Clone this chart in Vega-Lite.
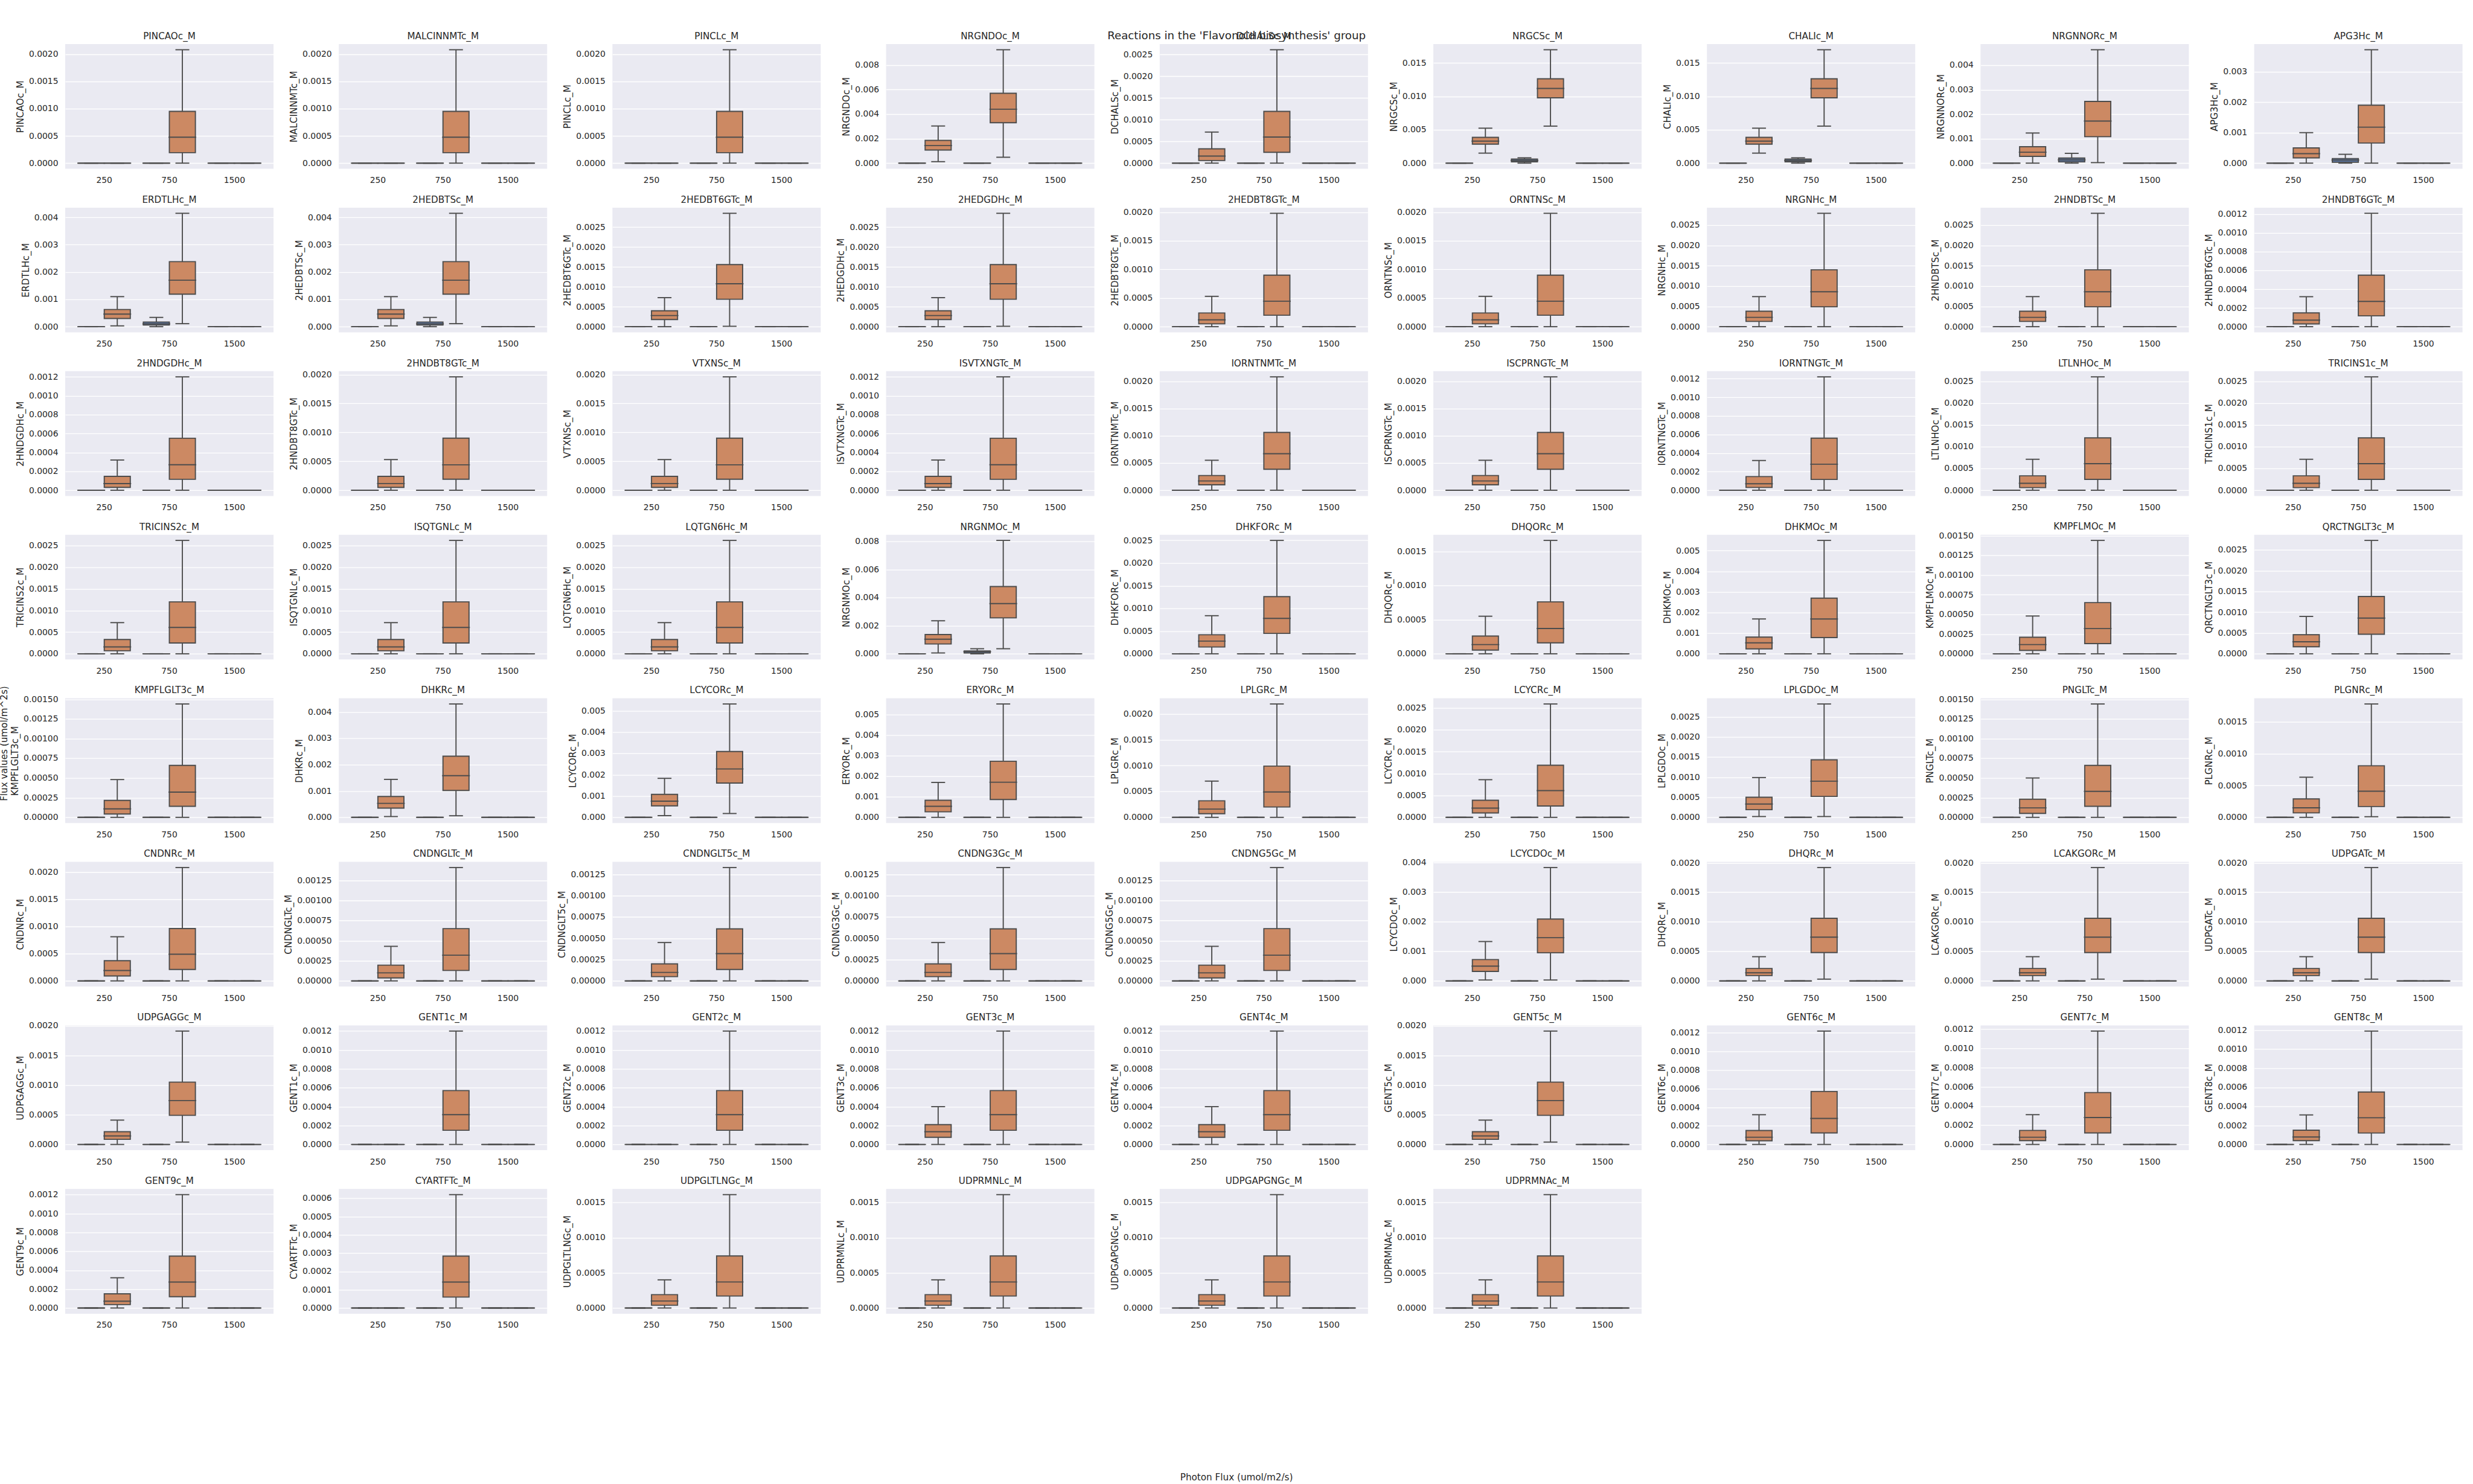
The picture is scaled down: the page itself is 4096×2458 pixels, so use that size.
{
"$schema":"https://vega.github.io/schema/vega-lite/v6.json",
"padding":{"left":0,"top":50,"right":0,"bottom":0},
"background":"white",
"data":{"name":"d"},
"datasets":{"d":[
{"p":"PINCAOc_M","f":"250","g":"A","lo":0,"q1":0,"md":0,"q3":0,"hi":0},{"p":"PINCAOc_M","f":"250","g":"B","lo":0,"q1":0,"md":0,"q3":0,"hi":0},{"p":"PINCAOc_M","f":"750","g":"A","lo":0,"q1":0,"md":0,"q3":0,"hi":0},{"p":"PINCAOc_M","f":"750","g":"B","lo":0,"q1":0.000192,"md":0.000475,"q3":0.00095,"hi":0.00208},{"p":"PINCAOc_M","f":"1500","g":"A","lo":0,"q1":0,"md":0,"q3":0,"hi":0},{"p":"PINCAOc_M","f":"1500","g":"B","lo":0,"q1":0,"md":0,"q3":0,"hi":0},
{"p":"MALCINNMTc_M","f":"250","g":"A","lo":0,"q1":0,"md":0,"q3":0,"hi":0},{"p":"MALCINNMTc_M","f":"250","g":"B","lo":0,"q1":0,"md":0,"q3":0,"hi":0},{"p":"MALCINNMTc_M","f":"750","g":"A","lo":0,"q1":0,"md":0,"q3":0,"hi":0},{"p":"MALCINNMTc_M","f":"750","g":"B","lo":0,"q1":0.000192,"md":0.000475,"q3":0.00095,"hi":0.00208},{"p":"MALCINNMTc_M","f":"1500","g":"A","lo":0,"q1":0,"md":0,"q3":0,"hi":0},{"p":"MALCINNMTc_M","f":"1500","g":"B","lo":0,"q1":0,"md":0,"q3":0,"hi":0},
{"p":"PINCLc_M","f":"250","g":"A","lo":0,"q1":0,"md":0,"q3":0,"hi":0},{"p":"PINCLc_M","f":"250","g":"B","lo":0,"q1":0,"md":0,"q3":0,"hi":0},{"p":"PINCLc_M","f":"750","g":"A","lo":0,"q1":0,"md":0,"q3":0,"hi":0},{"p":"PINCLc_M","f":"750","g":"B","lo":0,"q1":0.000192,"md":0.000475,"q3":0.00095,"hi":0.00208},{"p":"PINCLc_M","f":"1500","g":"A","lo":0,"q1":0,"md":0,"q3":0,"hi":0},{"p":"PINCLc_M","f":"1500","g":"B","lo":0,"q1":0,"md":0,"q3":0,"hi":0},
{"p":"NRGNDOc_M","f":"250","g":"A","lo":0,"q1":0,"md":0,"q3":0,"hi":0},{"p":"NRGNDOc_M","f":"250","g":"B","lo":0.00012,"q1":0.00107,"md":0.00143,"q3":0.00186,"hi":0.00303},{"p":"NRGNDOc_M","f":"750","g":"A","lo":0,"q1":0,"md":0,"q3":0,"hi":0},{"p":"NRGNDOc_M","f":"750","g":"B","lo":0.00048,"q1":0.0033,"md":0.0044,"q3":0.0057,"hi":0.00925},{"p":"NRGNDOc_M","f":"1500","g":"A","lo":0,"q1":0,"md":0,"q3":0,"hi":0},{"p":"NRGNDOc_M","f":"1500","g":"B","lo":0,"q1":0,"md":0,"q3":0,"hi":0},
{"p":"DCHALSc_M","f":"250","g":"A","lo":0,"q1":0,"md":0,"q3":0,"hi":0},{"p":"DCHALSc_M","f":"250","g":"B","lo":0,"q1":0.00006,"md":0.000163,"q3":0.00033,"hi":0.000715},{"p":"DCHALSc_M","f":"750","g":"A","lo":0,"q1":0,"md":0,"q3":0,"hi":0},{"p":"DCHALSc_M","f":"750","g":"B","lo":0,"q1":0.00025,"md":0.0006,"q3":0.00119,"hi":0.00261},{"p":"DCHALSc_M","f":"1500","g":"A","lo":0,"q1":0,"md":0,"q3":0,"hi":0},{"p":"DCHALSc_M","f":"1500","g":"B","lo":0,"q1":0,"md":0,"q3":0,"hi":0},
{"p":"NRGCSc_M","f":"250","g":"A","lo":0,"q1":0,"md":0,"q3":0,"hi":0},{"p":"NRGCSc_M","f":"250","g":"B","lo":0.0015,"q1":0.00285,"md":0.0033,"q3":0.00386,"hi":0.00524},{"p":"NRGCSc_M","f":"750","g":"A","lo":0,"q1":0.0002,"md":0.0004,"q3":0.0006,"hi":0.0008},{"p":"NRGCSc_M","f":"750","g":"B","lo":0.00555,"q1":0.0098,"md":0.0112,"q3":0.01265,"hi":0.017},{"p":"NRGCSc_M","f":"1500","g":"A","lo":0,"q1":0,"md":0,"q3":0,"hi":0},{"p":"NRGCSc_M","f":"1500","g":"B","lo":0,"q1":0,"md":0,"q3":0,"hi":0},
{"p":"CHALIc_M","f":"250","g":"A","lo":0,"q1":0,"md":0,"q3":0,"hi":0},{"p":"CHALIc_M","f":"250","g":"B","lo":0.0015,"q1":0.00285,"md":0.0033,"q3":0.00386,"hi":0.00524},{"p":"CHALIc_M","f":"750","g":"A","lo":0,"q1":0.0002,"md":0.0004,"q3":0.0006,"hi":0.0008},{"p":"CHALIc_M","f":"750","g":"B","lo":0.00555,"q1":0.0098,"md":0.0112,"q3":0.01265,"hi":0.017},{"p":"CHALIc_M","f":"1500","g":"A","lo":0,"q1":0,"md":0,"q3":0,"hi":0},{"p":"CHALIc_M","f":"1500","g":"B","lo":0,"q1":0,"md":0,"q3":0,"hi":0},
{"p":"NRGNNORc_M","f":"250","g":"A","lo":0,"q1":0,"md":0,"q3":0,"hi":0},{"p":"NRGNNORc_M","f":"250","g":"B","lo":0,"q1":0.000275,"md":0.000446,"q3":0.00067,"hi":0.00123},{"p":"NRGNNORc_M","f":"750","g":"A","lo":0,"q1":0.00005,"md":0.000134,"q3":0.00021,"hi":0.0004},{"p":"NRGNNORc_M","f":"750","g":"B","lo":0.00002,"q1":0.00108,"md":0.00172,"q3":0.00252,"hi":0.00463},{"p":"NRGNNORc_M","f":"1500","g":"A","lo":0,"q1":0,"md":0,"q3":0,"hi":0},{"p":"NRGNNORc_M","f":"1500","g":"B","lo":0,"q1":0,"md":0,"q3":0,"hi":0},
{"p":"APG3Hc_M","f":"250","g":"A","lo":0,"q1":0,"md":0,"q3":0,"hi":0},{"p":"APG3Hc_M","f":"250","g":"B","lo":0,"q1":0.000173,"md":0.00031,"q3":0.0005,"hi":0.001},{"p":"APG3Hc_M","f":"750","g":"A","lo":0,"q1":0.00003,"md":0.0001,"q3":0.00015,"hi":0.00029},{"p":"APG3Hc_M","f":"750","g":"B","lo":0,"q1":0.00066,"md":0.00118,"q3":0.0019,"hi":0.00372},{"p":"APG3Hc_M","f":"1500","g":"A","lo":0,"q1":0,"md":0,"q3":0,"hi":0},{"p":"APG3Hc_M","f":"1500","g":"B","lo":0,"q1":0,"md":0,"q3":0,"hi":0},
{"p":"ERDTLHc_M","f":"250","g":"A","lo":0,"q1":0,"md":0,"q3":0,"hi":0},{"p":"ERDTLHc_M","f":"250","g":"B","lo":0.00003,"q1":0.0003,"md":0.00046,"q3":0.00063,"hi":0.0011},{"p":"ERDTLHc_M","f":"750","g":"A","lo":0,"q1":0.00006,"md":0.0001,"q3":0.00017,"hi":0.00034},{"p":"ERDTLHc_M","f":"750","g":"B","lo":0.00011,"q1":0.00119,"md":0.0017,"q3":0.00238,"hi":0.00415},{"p":"ERDTLHc_M","f":"1500","g":"A","lo":0,"q1":0,"md":0,"q3":0,"hi":0},{"p":"ERDTLHc_M","f":"1500","g":"B","lo":0,"q1":0,"md":0,"q3":0,"hi":0},
{"p":"2HEDBTSc_M","f":"250","g":"A","lo":0,"q1":0,"md":0,"q3":0,"hi":0},{"p":"2HEDBTSc_M","f":"250","g":"B","lo":0.00003,"q1":0.0003,"md":0.00046,"q3":0.00063,"hi":0.0011},{"p":"2HEDBTSc_M","f":"750","g":"A","lo":0,"q1":0.00006,"md":0.0001,"q3":0.00017,"hi":0.00034},{"p":"2HEDBTSc_M","f":"750","g":"B","lo":0.00011,"q1":0.00119,"md":0.0017,"q3":0.00238,"hi":0.00415},{"p":"2HEDBTSc_M","f":"1500","g":"A","lo":0,"q1":0,"md":0,"q3":0,"hi":0},{"p":"2HEDBTSc_M","f":"1500","g":"B","lo":0,"q1":0,"md":0,"q3":0,"hi":0},
{"p":"2HEDBT6GTc_M","f":"250","g":"A","lo":0,"q1":0,"md":0,"q3":0,"hi":0},{"p":"2HEDBT6GTc_M","f":"250","g":"B","lo":0,"q1":0.00018,"md":0.00028,"q3":0.0004,"hi":0.00073},{"p":"2HEDBT6GTc_M","f":"750","g":"A","lo":0,"q1":0,"md":0,"q3":0,"hi":0},{"p":"2HEDBT6GTc_M","f":"750","g":"B","lo":0.00001,"q1":0.00069,"md":0.00108,"q3":0.00156,"hi":0.00285},{"p":"2HEDBT6GTc_M","f":"1500","g":"A","lo":0,"q1":0,"md":0,"q3":0,"hi":0},{"p":"2HEDBT6GTc_M","f":"1500","g":"B","lo":0,"q1":0,"md":0,"q3":0,"hi":0},
{"p":"2HEDGDHc_M","f":"250","g":"A","lo":0,"q1":0,"md":0,"q3":0,"hi":0},{"p":"2HEDGDHc_M","f":"250","g":"B","lo":0,"q1":0.00018,"md":0.00028,"q3":0.0004,"hi":0.00073},{"p":"2HEDGDHc_M","f":"750","g":"A","lo":0,"q1":0,"md":0,"q3":0,"hi":0},{"p":"2HEDGDHc_M","f":"750","g":"B","lo":0.00001,"q1":0.00069,"md":0.00108,"q3":0.00156,"hi":0.00285},{"p":"2HEDGDHc_M","f":"1500","g":"A","lo":0,"q1":0,"md":0,"q3":0,"hi":0},{"p":"2HEDGDHc_M","f":"1500","g":"B","lo":0,"q1":0,"md":0,"q3":0,"hi":0},
{"p":"2HEDBT8GTc_M","f":"250","g":"A","lo":0,"q1":0,"md":0,"q3":0,"hi":0},{"p":"2HEDBT8GTc_M","f":"250","g":"B","lo":0,"q1":0.00005,"md":0.00012,"q3":0.00024,"hi":0.00053},{"p":"2HEDBT8GTc_M","f":"750","g":"A","lo":0,"q1":0,"md":0,"q3":0,"hi":0},{"p":"2HEDBT8GTc_M","f":"750","g":"B","lo":0,"q1":0.0002,"md":0.000445,"q3":0.0009,"hi":0.00198},{"p":"2HEDBT8GTc_M","f":"1500","g":"A","lo":0,"q1":0,"md":0,"q3":0,"hi":0},{"p":"2HEDBT8GTc_M","f":"1500","g":"B","lo":0,"q1":0,"md":0,"q3":0,"hi":0},
{"p":"ORNTNSc_M","f":"250","g":"A","lo":0,"q1":0,"md":0,"q3":0,"hi":0},{"p":"ORNTNSc_M","f":"250","g":"B","lo":0,"q1":0.00005,"md":0.00012,"q3":0.00024,"hi":0.00053},{"p":"ORNTNSc_M","f":"750","g":"A","lo":0,"q1":0,"md":0,"q3":0,"hi":0},{"p":"ORNTNSc_M","f":"750","g":"B","lo":0,"q1":0.0002,"md":0.000445,"q3":0.0009,"hi":0.00198},{"p":"ORNTNSc_M","f":"1500","g":"A","lo":0,"q1":0,"md":0,"q3":0,"hi":0},{"p":"ORNTNSc_M","f":"1500","g":"B","lo":0,"q1":0,"md":0,"q3":0,"hi":0},
{"p":"NRGNHc_M","f":"250","g":"A","lo":0,"q1":0,"md":0,"q3":0,"hi":0},{"p":"NRGNHc_M","f":"250","g":"B","lo":0,"q1":0.00013,"md":0.00023,"q3":0.00038,"hi":0.00074},{"p":"NRGNHc_M","f":"750","g":"A","lo":0,"q1":0,"md":0,"q3":0,"hi":0},{"p":"NRGNHc_M","f":"750","g":"B","lo":0,"q1":0.00049,"md":0.00086,"q3":0.0014,"hi":0.00279},{"p":"NRGNHc_M","f":"1500","g":"A","lo":0,"q1":0,"md":0,"q3":0,"hi":0},{"p":"NRGNHc_M","f":"1500","g":"B","lo":0,"q1":0,"md":0,"q3":0,"hi":0},
{"p":"2HNDBTSc_M","f":"250","g":"A","lo":0,"q1":0,"md":0,"q3":0,"hi":0},{"p":"2HNDBTSc_M","f":"250","g":"B","lo":0,"q1":0.00013,"md":0.00023,"q3":0.00038,"hi":0.00074},{"p":"2HNDBTSc_M","f":"750","g":"A","lo":0,"q1":0,"md":0,"q3":0,"hi":0},{"p":"2HNDBTSc_M","f":"750","g":"B","lo":0,"q1":0.00049,"md":0.00086,"q3":0.0014,"hi":0.00279},{"p":"2HNDBTSc_M","f":"1500","g":"A","lo":0,"q1":0,"md":0,"q3":0,"hi":0},{"p":"2HNDBTSc_M","f":"1500","g":"B","lo":0,"q1":0,"md":0,"q3":0,"hi":0},
{"p":"2HNDBT6GTc_M","f":"250","g":"A","lo":0,"q1":0,"md":0,"q3":0,"hi":0},{"p":"2HNDBT6GTc_M","f":"250","g":"B","lo":0,"q1":0.00003,"md":0.00007,"q3":0.000147,"hi":0.00032},{"p":"2HNDBT6GTc_M","f":"750","g":"A","lo":0,"q1":0,"md":0,"q3":0,"hi":0},{"p":"2HNDBT6GTc_M","f":"750","g":"B","lo":0,"q1":0.000116,"md":0.00027,"q3":0.00055,"hi":0.00121},{"p":"2HNDBT6GTc_M","f":"1500","g":"A","lo":0,"q1":0,"md":0,"q3":0,"hi":0},{"p":"2HNDBT6GTc_M","f":"1500","g":"B","lo":0,"q1":0,"md":0,"q3":0,"hi":0},
{"p":"2HNDGDHc_M","f":"250","g":"A","lo":0,"q1":0,"md":0,"q3":0,"hi":0},{"p":"2HNDGDHc_M","f":"250","g":"B","lo":0,"q1":0.00003,"md":0.00007,"q3":0.000147,"hi":0.00032},{"p":"2HNDGDHc_M","f":"750","g":"A","lo":0,"q1":0,"md":0,"q3":0,"hi":0},{"p":"2HNDGDHc_M","f":"750","g":"B","lo":0,"q1":0.000116,"md":0.00027,"q3":0.00055,"hi":0.0012},{"p":"2HNDGDHc_M","f":"1500","g":"A","lo":0,"q1":0,"md":0,"q3":0,"hi":0},{"p":"2HNDGDHc_M","f":"1500","g":"B","lo":0,"q1":0,"md":0,"q3":0,"hi":0},
{"p":"2HNDBT8GTc_M","f":"250","g":"A","lo":0,"q1":0,"md":0,"q3":0,"hi":0},{"p":"2HNDBT8GTc_M","f":"250","g":"B","lo":0,"q1":0.00005,"md":0.000116,"q3":0.00024,"hi":0.00053},{"p":"2HNDBT8GTc_M","f":"750","g":"A","lo":0,"q1":0,"md":0,"q3":0,"hi":0},{"p":"2HNDBT8GTc_M","f":"750","g":"B","lo":0,"q1":0.00019,"md":0.00044,"q3":0.0009,"hi":0.00196},{"p":"2HNDBT8GTc_M","f":"1500","g":"A","lo":0,"q1":0,"md":0,"q3":0,"hi":0},{"p":"2HNDBT8GTc_M","f":"1500","g":"B","lo":0,"q1":0,"md":0,"q3":0,"hi":0},
{"p":"VTXNSc_M","f":"250","g":"A","lo":0,"q1":0,"md":0,"q3":0,"hi":0},{"p":"VTXNSc_M","f":"250","g":"B","lo":0,"q1":0.00005,"md":0.000116,"q3":0.00024,"hi":0.00053},{"p":"VTXNSc_M","f":"750","g":"A","lo":0,"q1":0,"md":0,"q3":0,"hi":0},{"p":"VTXNSc_M","f":"750","g":"B","lo":0,"q1":0.00019,"md":0.00044,"q3":0.0009,"hi":0.00196},{"p":"VTXNSc_M","f":"1500","g":"A","lo":0,"q1":0,"md":0,"q3":0,"hi":0},{"p":"VTXNSc_M","f":"1500","g":"B","lo":0,"q1":0,"md":0,"q3":0,"hi":0},
{"p":"ISVTXNGTc_M","f":"250","g":"A","lo":0,"q1":0,"md":0,"q3":0,"hi":0},{"p":"ISVTXNGTc_M","f":"250","g":"B","lo":0,"q1":0.00003,"md":0.00007,"q3":0.000147,"hi":0.00032},{"p":"ISVTXNGTc_M","f":"750","g":"A","lo":0,"q1":0,"md":0,"q3":0,"hi":0},{"p":"ISVTXNGTc_M","f":"750","g":"B","lo":0,"q1":0.000116,"md":0.00027,"q3":0.00055,"hi":0.0012},{"p":"ISVTXNGTc_M","f":"1500","g":"A","lo":0,"q1":0,"md":0,"q3":0,"hi":0},{"p":"ISVTXNGTc_M","f":"1500","g":"B","lo":0,"q1":0,"md":0,"q3":0,"hi":0},
{"p":"IORNTNMTc_M","f":"250","g":"A","lo":0,"q1":0,"md":0,"q3":0,"hi":0},{"p":"IORNTNMTc_M","f":"250","g":"B","lo":0,"q1":0.0001,"md":0.00017,"q3":0.00027,"hi":0.00055},{"p":"IORNTNMTc_M","f":"750","g":"A","lo":0,"q1":0,"md":0,"q3":0,"hi":0},{"p":"IORNTNMTc_M","f":"750","g":"B","lo":0,"q1":0.000385,"md":0.00067,"q3":0.00106,"hi":0.00208},{"p":"IORNTNMTc_M","f":"1500","g":"A","lo":0,"q1":0,"md":0,"q3":0,"hi":0},{"p":"IORNTNMTc_M","f":"1500","g":"B","lo":0,"q1":0,"md":0,"q3":0,"hi":0},
{"p":"ISCPRNGTc_M","f":"250","g":"A","lo":0,"q1":0,"md":0,"q3":0,"hi":0},{"p":"ISCPRNGTc_M","f":"250","g":"B","lo":0,"q1":0.0001,"md":0.00017,"q3":0.00027,"hi":0.00055},{"p":"ISCPRNGTc_M","f":"750","g":"A","lo":0,"q1":0,"md":0,"q3":0,"hi":0},{"p":"ISCPRNGTc_M","f":"750","g":"B","lo":0,"q1":0.000385,"md":0.00067,"q3":0.00106,"hi":0.00208},{"p":"ISCPRNGTc_M","f":"1500","g":"A","lo":0,"q1":0,"md":0,"q3":0,"hi":0},{"p":"ISCPRNGTc_M","f":"1500","g":"B","lo":0,"q1":0,"md":0,"q3":0,"hi":0},
{"p":"IORNTNGTc_M","f":"250","g":"A","lo":0,"q1":0,"md":0,"q3":0,"hi":0},{"p":"IORNTNGTc_M","f":"250","g":"B","lo":0,"q1":0.00003,"md":0.00007,"q3":0.000147,"hi":0.00032},{"p":"IORNTNGTc_M","f":"750","g":"A","lo":0,"q1":0,"md":0,"q3":0,"hi":0},{"p":"IORNTNGTc_M","f":"750","g":"B","lo":0,"q1":0.000116,"md":0.00028,"q3":0.00056,"hi":0.00122},{"p":"IORNTNGTc_M","f":"1500","g":"A","lo":0,"q1":0,"md":0,"q3":0,"hi":0},{"p":"IORNTNGTc_M","f":"1500","g":"B","lo":0,"q1":0,"md":0,"q3":0,"hi":0},
{"p":"LTLNHOc_M","f":"250","g":"A","lo":0,"q1":0,"md":0,"q3":0,"hi":0},{"p":"LTLNHOc_M","f":"250","g":"B","lo":0,"q1":0.00006,"md":0.00016,"q3":0.00033,"hi":0.00071},{"p":"LTLNHOc_M","f":"750","g":"A","lo":0,"q1":0,"md":0,"q3":0,"hi":0},{"p":"LTLNHOc_M","f":"750","g":"B","lo":0,"q1":0.00025,"md":0.00061,"q3":0.0012,"hi":0.0026},{"p":"LTLNHOc_M","f":"1500","g":"A","lo":0,"q1":0,"md":0,"q3":0,"hi":0},{"p":"LTLNHOc_M","f":"1500","g":"B","lo":0,"q1":0,"md":0,"q3":0,"hi":0},
{"p":"TRICINS1c_M","f":"250","g":"A","lo":0,"q1":0,"md":0,"q3":0,"hi":0},{"p":"TRICINS1c_M","f":"250","g":"B","lo":0,"q1":0.00006,"md":0.00016,"q3":0.00033,"hi":0.00071},{"p":"TRICINS1c_M","f":"750","g":"A","lo":0,"q1":0,"md":0,"q3":0,"hi":0},{"p":"TRICINS1c_M","f":"750","g":"B","lo":0,"q1":0.00025,"md":0.00061,"q3":0.0012,"hi":0.0026},{"p":"TRICINS1c_M","f":"1500","g":"A","lo":0,"q1":0,"md":0,"q3":0,"hi":0},{"p":"TRICINS1c_M","f":"1500","g":"B","lo":0,"q1":0,"md":0,"q3":0,"hi":0},
{"p":"TRICINS2c_M","f":"250","g":"A","lo":0,"q1":0,"md":0,"q3":0,"hi":0},{"p":"TRICINS2c_M","f":"250","g":"B","lo":0,"q1":0.00007,"md":0.00016,"q3":0.00033,"hi":0.00072},{"p":"TRICINS2c_M","f":"750","g":"A","lo":0,"q1":0,"md":0,"q3":0,"hi":0},{"p":"TRICINS2c_M","f":"750","g":"B","lo":0,"q1":0.00025,"md":0.00061,"q3":0.0012,"hi":0.00262},{"p":"TRICINS2c_M","f":"1500","g":"A","lo":0,"q1":0,"md":0,"q3":0,"hi":0},{"p":"TRICINS2c_M","f":"1500","g":"B","lo":0,"q1":0,"md":0,"q3":0,"hi":0},
{"p":"ISQTGNLc_M","f":"250","g":"A","lo":0,"q1":0,"md":0,"q3":0,"hi":0},{"p":"ISQTGNLc_M","f":"250","g":"B","lo":0,"q1":0.00007,"md":0.00016,"q3":0.00033,"hi":0.00072},{"p":"ISQTGNLc_M","f":"750","g":"A","lo":0,"q1":0,"md":0,"q3":0,"hi":0},{"p":"ISQTGNLc_M","f":"750","g":"B","lo":0,"q1":0.00025,"md":0.00061,"q3":0.0012,"hi":0.00262},{"p":"ISQTGNLc_M","f":"1500","g":"A","lo":0,"q1":0,"md":0,"q3":0,"hi":0},{"p":"ISQTGNLc_M","f":"1500","g":"B","lo":0,"q1":0,"md":0,"q3":0,"hi":0},
{"p":"LQTGN6Hc_M","f":"250","g":"A","lo":0,"q1":0,"md":0,"q3":0,"hi":0},{"p":"LQTGN6Hc_M","f":"250","g":"B","lo":0,"q1":0.00007,"md":0.00016,"q3":0.00033,"hi":0.00072},{"p":"LQTGN6Hc_M","f":"750","g":"A","lo":0,"q1":0,"md":0,"q3":0,"hi":0},{"p":"LQTGN6Hc_M","f":"750","g":"B","lo":0,"q1":0.00025,"md":0.00061,"q3":0.0012,"hi":0.00262},{"p":"LQTGN6Hc_M","f":"1500","g":"A","lo":0,"q1":0,"md":0,"q3":0,"hi":0},{"p":"LQTGN6Hc_M","f":"1500","g":"B","lo":0,"q1":0,"md":0,"q3":0,"hi":0},
{"p":"NRGNMOc_M","f":"250","g":"A","lo":0,"q1":0,"md":0,"q3":0,"hi":0},{"p":"NRGNMOc_M","f":"250","g":"B","lo":0.00006,"q1":0.0007,"md":0.00104,"q3":0.00137,"hi":0.00235},{"p":"NRGNMOc_M","f":"750","g":"A","lo":0,"q1":0.00006,"md":0.00015,"q3":0.0002,"hi":0.00036},{"p":"NRGNMOc_M","f":"750","g":"B","lo":0.00036,"q1":0.00256,"md":0.00357,"q3":0.00479,"hi":0.00807},{"p":"NRGNMOc_M","f":"1500","g":"A","lo":0,"q1":0,"md":0,"q3":0,"hi":0},{"p":"NRGNMOc_M","f":"1500","g":"B","lo":0,"q1":0,"md":0,"q3":0,"hi":0},
{"p":"DHKFORc_M","f":"250","g":"A","lo":0,"q1":0,"md":0,"q3":0,"hi":0},{"p":"DHKFORc_M","f":"250","g":"B","lo":0,"q1":0.00015,"md":0.00028,"q3":0.00042,"hi":0.00084},{"p":"DHKFORc_M","f":"750","g":"A","lo":0,"q1":0,"md":0,"q3":0,"hi":0},{"p":"DHKFORc_M","f":"750","g":"B","lo":0,"q1":0.00045,"md":0.00078,"q3":0.00126,"hi":0.0025},{"p":"DHKFORc_M","f":"1500","g":"A","lo":0,"q1":0,"md":0,"q3":0,"hi":0},{"p":"DHKFORc_M","f":"1500","g":"B","lo":0,"q1":0,"md":0,"q3":0,"hi":0},
{"p":"DHQORc_M","f":"250","g":"A","lo":0,"q1":0,"md":0,"q3":0,"hi":0},{"p":"DHQORc_M","f":"250","g":"B","lo":0,"q1":0.000055,"md":0.000135,"q3":0.00026,"hi":0.00055},{"p":"DHQORc_M","f":"750","g":"A","lo":0,"q1":0,"md":0,"q3":0,"hi":0},{"p":"DHQORc_M","f":"750","g":"B","lo":0,"q1":0.00016,"md":0.00037,"q3":0.00076,"hi":0.00166},{"p":"DHQORc_M","f":"1500","g":"A","lo":0,"q1":0,"md":0,"q3":0,"hi":0},{"p":"DHQORc_M","f":"1500","g":"B","lo":0,"q1":0,"md":0,"q3":0,"hi":0},
{"p":"DHKMOc_M","f":"250","g":"A","lo":0,"q1":0,"md":0,"q3":0,"hi":0},{"p":"DHKMOc_M","f":"250","g":"B","lo":0,"q1":0.00024,"md":0.00053,"q3":0.00081,"hi":0.00169},{"p":"DHKMOc_M","f":"750","g":"A","lo":0,"q1":0,"md":0,"q3":0,"hi":0},{"p":"DHKMOc_M","f":"750","g":"B","lo":0,"q1":0.00079,"md":0.00169,"q3":0.0027,"hi":0.0055},{"p":"DHKMOc_M","f":"1500","g":"A","lo":0,"q1":0,"md":0,"q3":0,"hi":0},{"p":"DHKMOc_M","f":"1500","g":"B","lo":0,"q1":0,"md":0,"q3":0,"hi":0},
{"p":"KMPFLMOc_M","f":"250","g":"A","lo":0,"q1":0,"md":0,"q3":0,"hi":0},{"p":"KMPFLMOc_M","f":"250","g":"B","lo":0,"q1":0.000043,"md":0.000117,"q3":0.00021,"hi":0.00048},{"p":"KMPFLMOc_M","f":"750","g":"A","lo":0,"q1":0,"md":0,"q3":0,"hi":0},{"p":"KMPFLMOc_M","f":"750","g":"B","lo":0,"q1":0.00013,"md":0.00032,"q3":0.00065,"hi":0.00144},{"p":"KMPFLMOc_M","f":"1500","g":"A","lo":0,"q1":0,"md":0,"q3":0,"hi":0},{"p":"KMPFLMOc_M","f":"1500","g":"B","lo":0,"q1":0,"md":0,"q3":0,"hi":0},
{"p":"QRCTNGLT3c_M","f":"250","g":"A","lo":0,"q1":0,"md":0,"q3":0,"hi":0},{"p":"QRCTNGLT3c_M","f":"250","g":"B","lo":0,"q1":0.00017,"md":0.00029,"q3":0.00046,"hi":0.0009},{"p":"QRCTNGLT3c_M","f":"750","g":"A","lo":0,"q1":0,"md":0,"q3":0,"hi":0},{"p":"QRCTNGLT3c_M","f":"750","g":"B","lo":0,"q1":0.00047,"md":0.00086,"q3":0.00138,"hi":0.00273},{"p":"QRCTNGLT3c_M","f":"1500","g":"A","lo":0,"q1":0,"md":0,"q3":0,"hi":0},{"p":"QRCTNGLT3c_M","f":"1500","g":"B","lo":0,"q1":0,"md":0,"q3":0,"hi":0},
{"p":"KMPFLGLT3c_M","f":"250","g":"A","lo":0,"q1":0,"md":0,"q3":0,"hi":0},{"p":"KMPFLGLT3c_M","f":"250","g":"B","lo":0,"q1":0.000043,"md":0.000108,"q3":0.000215,"hi":0.00048},{"p":"KMPFLGLT3c_M","f":"750","g":"A","lo":0,"q1":0,"md":0,"q3":0,"hi":0},{"p":"KMPFLGLT3c_M","f":"750","g":"B","lo":0,"q1":0.00014,"md":0.00032,"q3":0.00066,"hi":0.00144},{"p":"KMPFLGLT3c_M","f":"1500","g":"A","lo":0,"q1":0,"md":0,"q3":0,"hi":0},{"p":"KMPFLGLT3c_M","f":"1500","g":"B","lo":0,"q1":0,"md":0,"q3":0,"hi":0},
{"p":"DHKRc_M","f":"250","g":"A","lo":0,"q1":0,"md":0,"q3":0,"hi":0},{"p":"DHKRc_M","f":"250","g":"B","lo":0.00003,"q1":0.00035,"md":0.00053,"q3":0.00079,"hi":0.00144},{"p":"DHKRc_M","f":"750","g":"A","lo":0,"q1":0,"md":0,"q3":0,"hi":0},{"p":"DHKRc_M","f":"750","g":"B","lo":0.00006,"q1":0.00102,"md":0.00158,"q3":0.00232,"hi":0.0043},{"p":"DHKRc_M","f":"1500","g":"A","lo":0,"q1":0,"md":0,"q3":0,"hi":0},{"p":"DHKRc_M","f":"1500","g":"B","lo":0,"q1":0,"md":0,"q3":0,"hi":0},
{"p":"LCYCORc_M","f":"250","g":"A","lo":0,"q1":0,"md":0,"q3":0,"hi":0},{"p":"LCYCORc_M","f":"250","g":"B","lo":0.00008,"q1":0.00054,"md":0.00076,"q3":0.00108,"hi":0.00183},{"p":"LCYCORc_M","f":"750","g":"A","lo":0,"q1":0,"md":0,"q3":0,"hi":0},{"p":"LCYCORc_M","f":"750","g":"B","lo":0.00018,"q1":0.00161,"md":0.00227,"q3":0.00309,"hi":0.00532},{"p":"LCYCORc_M","f":"1500","g":"A","lo":0,"q1":0,"md":0,"q3":0,"hi":0},{"p":"LCYCORc_M","f":"1500","g":"B","lo":0,"q1":0,"md":0,"q3":0,"hi":0},
{"p":"ERYORc_M","f":"250","g":"A","lo":0,"q1":0,"md":0,"q3":0,"hi":0},{"p":"ERYORc_M","f":"250","g":"B","lo":0,"q1":0.00027,"md":0.00054,"q3":0.00083,"hi":0.0017},{"p":"ERYORc_M","f":"750","g":"A","lo":0,"q1":0,"md":0,"q3":0,"hi":0},{"p":"ERYORc_M","f":"750","g":"B","lo":0,"q1":0.00087,"md":0.00171,"q3":0.00273,"hi":0.00552},{"p":"ERYORc_M","f":"1500","g":"A","lo":0,"q1":0,"md":0,"q3":0,"hi":0},{"p":"ERYORc_M","f":"1500","g":"B","lo":0,"q1":0,"md":0,"q3":0,"hi":0},
{"p":"LPLGRc_M","f":"250","g":"A","lo":0,"q1":0,"md":0,"q3":0,"hi":0},{"p":"LPLGRc_M","f":"250","g":"B","lo":0,"q1":0.00007,"md":0.00016,"q3":0.00032,"hi":0.0007},{"p":"LPLGRc_M","f":"750","g":"A","lo":0,"q1":0,"md":0,"q3":0,"hi":0},{"p":"LPLGRc_M","f":"750","g":"B","lo":0,"q1":0.0002,"md":0.00049,"q3":0.00099,"hi":0.00219},{"p":"LPLGRc_M","f":"1500","g":"A","lo":0,"q1":0,"md":0,"q3":0,"hi":0},{"p":"LPLGRc_M","f":"1500","g":"B","lo":0,"q1":0,"md":0,"q3":0,"hi":0},
{"p":"LCYCRc_M","f":"250","g":"A","lo":0,"q1":0,"md":0,"q3":0,"hi":0},{"p":"LCYCRc_M","f":"250","g":"B","lo":0,"q1":0.0001,"md":0.00021,"q3":0.00039,"hi":0.00086},{"p":"LCYCRc_M","f":"750","g":"A","lo":0,"q1":0,"md":0,"q3":0,"hi":0},{"p":"LCYCRc_M","f":"750","g":"B","lo":0,"q1":0.00026,"md":0.00061,"q3":0.00119,"hi":0.00259},{"p":"LCYCRc_M","f":"1500","g":"A","lo":0,"q1":0,"md":0,"q3":0,"hi":0},{"p":"LCYCRc_M","f":"1500","g":"B","lo":0,"q1":0,"md":0,"q3":0,"hi":0},
{"p":"LPLGDOc_M","f":"250","g":"A","lo":0,"q1":0,"md":0,"q3":0,"hi":0},{"p":"LPLGDOc_M","f":"250","g":"B","lo":0.00002,"q1":0.00019,"md":0.00033,"q3":0.0005,"hi":0.00099},{"p":"LPLGDOc_M","f":"750","g":"A","lo":0,"q1":0,"md":0,"q3":0,"hi":0},{"p":"LPLGDOc_M","f":"750","g":"B","lo":0.00002,"q1":0.00052,"md":0.0009,"q3":0.00143,"hi":0.00282},{"p":"LPLGDOc_M","f":"1500","g":"A","lo":0,"q1":0,"md":0,"q3":0,"hi":0},{"p":"LPLGDOc_M","f":"1500","g":"B","lo":0,"q1":0,"md":0,"q3":0,"hi":0},
{"p":"PNGLTc_M","f":"250","g":"A","lo":0,"q1":0,"md":0,"q3":0,"hi":0},{"p":"PNGLTc_M","f":"250","g":"B","lo":0,"q1":0.00005,"md":0.00012,"q3":0.00023,"hi":0.0005},{"p":"PNGLTc_M","f":"750","g":"A","lo":0,"q1":0,"md":0,"q3":0,"hi":0},{"p":"PNGLTc_M","f":"750","g":"B","lo":0,"q1":0.00014,"md":0.00033,"q3":0.00066,"hi":0.00144},{"p":"PNGLTc_M","f":"1500","g":"A","lo":0,"q1":0,"md":0,"q3":0,"hi":0},{"p":"PNGLTc_M","f":"1500","g":"B","lo":0,"q1":0,"md":0,"q3":0,"hi":0},
{"p":"PLGNRc_M","f":"250","g":"A","lo":0,"q1":0,"md":0,"q3":0,"hi":0},{"p":"PLGNRc_M","f":"250","g":"B","lo":0,"q1":0.00007,"md":0.00015,"q3":0.00029,"hi":0.00063},{"p":"PLGNRc_M","f":"750","g":"A","lo":0,"q1":0,"md":0,"q3":0,"hi":0},{"p":"PLGNRc_M","f":"750","g":"B","lo":0.00001,"q1":0.00017,"md":0.00041,"q3":0.00081,"hi":0.00178},{"p":"PLGNRc_M","f":"1500","g":"A","lo":0,"q1":0,"md":0,"q3":0,"hi":0},{"p":"PLGNRc_M","f":"1500","g":"B","lo":0,"q1":0,"md":0,"q3":0,"hi":0},
{"p":"CNDNRc_M","f":"250","g":"A","lo":0,"q1":0,"md":0,"q3":0,"hi":0},{"p":"CNDNRc_M","f":"250","g":"B","lo":0,"q1":0.00009,"md":0.00019,"q3":0.00037,"hi":0.00081},{"p":"CNDNRc_M","f":"750","g":"A","lo":0,"q1":0,"md":0,"q3":0,"hi":0},{"p":"CNDNRc_M","f":"750","g":"B","lo":0,"q1":0.00021,"md":0.00049,"q3":0.00096,"hi":0.00208},{"p":"CNDNRc_M","f":"1500","g":"A","lo":0,"q1":0,"md":0,"q3":0,"hi":0},{"p":"CNDNRc_M","f":"1500","g":"B","lo":0,"q1":0,"md":0,"q3":0,"hi":0},
{"p":"CNDNGLTc_M","f":"250","g":"A","lo":0,"q1":0,"md":0,"q3":0,"hi":0},{"p":"CNDNGLTc_M","f":"250","g":"B","lo":0,"q1":0.000037,"md":0.0001,"q3":0.000196,"hi":0.00043},{"p":"CNDNGLTc_M","f":"750","g":"A","lo":0,"q1":0,"md":0,"q3":0,"hi":0},{"p":"CNDNGLTc_M","f":"750","g":"B","lo":0,"q1":0.00013,"md":0.00032,"q3":0.00065,"hi":0.00141},{"p":"CNDNGLTc_M","f":"1500","g":"A","lo":0,"q1":0,"md":0,"q3":0,"hi":0},{"p":"CNDNGLTc_M","f":"1500","g":"B","lo":0,"q1":0,"md":0,"q3":0,"hi":0},
{"p":"CNDNGLT5c_M","f":"250","g":"A","lo":0,"q1":0,"md":0,"q3":0,"hi":0},{"p":"CNDNGLT5c_M","f":"250","g":"B","lo":0,"q1":0.00005,"md":0.0001,"q3":0.0002,"hi":0.00045},{"p":"CNDNGLT5c_M","f":"750","g":"A","lo":0,"q1":0,"md":0,"q3":0,"hi":0},{"p":"CNDNGLT5c_M","f":"750","g":"B","lo":0,"q1":0.000134,"md":0.00032,"q3":0.00061,"hi":0.00133},{"p":"CNDNGLT5c_M","f":"1500","g":"A","lo":0,"q1":0,"md":0,"q3":0,"hi":0},{"p":"CNDNGLT5c_M","f":"1500","g":"B","lo":0,"q1":0,"md":0,"q3":0,"hi":0},
{"p":"CNDNG3Gc_M","f":"250","g":"A","lo":0,"q1":0,"md":0,"q3":0,"hi":0},{"p":"CNDNG3Gc_M","f":"250","g":"B","lo":0,"q1":0.00005,"md":0.0001,"q3":0.0002,"hi":0.00045},{"p":"CNDNG3Gc_M","f":"750","g":"A","lo":0,"q1":0,"md":0,"q3":0,"hi":0},{"p":"CNDNG3Gc_M","f":"750","g":"B","lo":0,"q1":0.000134,"md":0.00032,"q3":0.00061,"hi":0.00133},{"p":"CNDNG3Gc_M","f":"1500","g":"A","lo":0,"q1":0,"md":0,"q3":0,"hi":0},{"p":"CNDNG3Gc_M","f":"1500","g":"B","lo":0,"q1":0,"md":0,"q3":0,"hi":0},
{"p":"CNDNG5Gc_M","f":"250","g":"A","lo":0,"q1":0,"md":0,"q3":0,"hi":0},{"p":"CNDNG5Gc_M","f":"250","g":"B","lo":0,"q1":0.000037,"md":0.0001,"q3":0.000196,"hi":0.00043},{"p":"CNDNG5Gc_M","f":"750","g":"A","lo":0,"q1":0,"md":0,"q3":0,"hi":0},{"p":"CNDNG5Gc_M","f":"750","g":"B","lo":0,"q1":0.00013,"md":0.00032,"q3":0.00065,"hi":0.00141},{"p":"CNDNG5Gc_M","f":"1500","g":"A","lo":0,"q1":0,"md":0,"q3":0,"hi":0},{"p":"CNDNG5Gc_M","f":"1500","g":"B","lo":0,"q1":0,"md":0,"q3":0,"hi":0},
{"p":"LCYCDOc_M","f":"250","g":"A","lo":0,"q1":0,"md":0,"q3":0,"hi":0},{"p":"LCYCDOc_M","f":"250","g":"B","lo":0.00003,"q1":0.00032,"md":0.0005,"q3":0.00072,"hi":0.00133},{"p":"LCYCDOc_M","f":"750","g":"A","lo":0,"q1":0,"md":0,"q3":0,"hi":0},{"p":"LCYCDOc_M","f":"750","g":"B","lo":0.00003,"q1":0.00095,"md":0.00146,"q3":0.00209,"hi":0.00383},{"p":"LCYCDOc_M","f":"1500","g":"A","lo":0,"q1":0,"md":0,"q3":0,"hi":0},{"p":"LCYCDOc_M","f":"1500","g":"B","lo":0,"q1":0,"md":0,"q3":0,"hi":0},
{"p":"DHQRc_M","f":"250","g":"A","lo":0,"q1":0,"md":0,"q3":0,"hi":0},{"p":"DHQRc_M","f":"250","g":"B","lo":0,"q1":0.00009,"md":0.000137,"q3":0.00021,"hi":0.00041},{"p":"DHQRc_M","f":"750","g":"A","lo":0,"q1":0,"md":0,"q3":0,"hi":0},{"p":"DHQRc_M","f":"750","g":"B","lo":0.00003,"q1":0.00048,"md":0.00074,"q3":0.00106,"hi":0.00192},{"p":"DHQRc_M","f":"1500","g":"A","lo":0,"q1":0,"md":0,"q3":0,"hi":0},{"p":"DHQRc_M","f":"1500","g":"B","lo":0,"q1":0,"md":0,"q3":0,"hi":0},
{"p":"LCAKGORc_M","f":"250","g":"A","lo":0,"q1":0,"md":0,"q3":0,"hi":0},{"p":"LCAKGORc_M","f":"250","g":"B","lo":0,"q1":0.00009,"md":0.000137,"q3":0.00021,"hi":0.00041},{"p":"LCAKGORc_M","f":"750","g":"A","lo":0,"q1":0,"md":0,"q3":0,"hi":0},{"p":"LCAKGORc_M","f":"750","g":"B","lo":0.00003,"q1":0.00048,"md":0.00074,"q3":0.00106,"hi":0.00192},{"p":"LCAKGORc_M","f":"1500","g":"A","lo":0,"q1":0,"md":0,"q3":0,"hi":0},{"p":"LCAKGORc_M","f":"1500","g":"B","lo":0,"q1":0,"md":0,"q3":0,"hi":0},
{"p":"UDPGATc_M","f":"250","g":"A","lo":0,"q1":0,"md":0,"q3":0,"hi":0},{"p":"UDPGATc_M","f":"250","g":"B","lo":0,"q1":0.00009,"md":0.000137,"q3":0.00021,"hi":0.00041},{"p":"UDPGATc_M","f":"750","g":"A","lo":0,"q1":0,"md":0,"q3":0,"hi":0},{"p":"UDPGATc_M","f":"750","g":"B","lo":0.00003,"q1":0.00048,"md":0.00074,"q3":0.00106,"hi":0.00192},{"p":"UDPGATc_M","f":"1500","g":"A","lo":0,"q1":0,"md":0,"q3":0,"hi":0},{"p":"UDPGATc_M","f":"1500","g":"B","lo":0,"q1":0,"md":0,"q3":0,"hi":0},
{"p":"UDPGAGGc_M","f":"250","g":"A","lo":0,"q1":0,"md":0,"q3":0,"hi":0},{"p":"UDPGAGGc_M","f":"250","g":"B","lo":0,"q1":0.000086,"md":0.000143,"q3":0.000215,"hi":0.00041},{"p":"UDPGAGGc_M","f":"750","g":"A","lo":0,"q1":0,"md":0,"q3":0,"hi":0},{"p":"UDPGAGGc_M","f":"750","g":"B","lo":0.00004,"q1":0.00049,"md":0.00074,"q3":0.00105,"hi":0.00191},{"p":"UDPGAGGc_M","f":"1500","g":"A","lo":0,"q1":0,"md":0,"q3":0,"hi":0},{"p":"UDPGAGGc_M","f":"1500","g":"B","lo":0,"q1":0,"md":0,"q3":0,"hi":0},
{"p":"GENT1c_M","f":"250","g":"A","lo":0,"q1":0,"md":0,"q3":0,"hi":0},{"p":"GENT1c_M","f":"250","g":"B","lo":0,"q1":0,"md":0,"q3":0,"hi":0},{"p":"GENT1c_M","f":"750","g":"A","lo":0,"q1":0,"md":0,"q3":0,"hi":0},{"p":"GENT1c_M","f":"750","g":"B","lo":0,"q1":0.00015,"md":0.000315,"q3":0.00057,"hi":0.0012},{"p":"GENT1c_M","f":"1500","g":"A","lo":0,"q1":0,"md":0,"q3":0,"hi":0},{"p":"GENT1c_M","f":"1500","g":"B","lo":0,"q1":0,"md":0,"q3":0,"hi":0},
{"p":"GENT2c_M","f":"250","g":"A","lo":0,"q1":0,"md":0,"q3":0,"hi":0},{"p":"GENT2c_M","f":"250","g":"B","lo":0,"q1":0,"md":0,"q3":0,"hi":0},{"p":"GENT2c_M","f":"750","g":"A","lo":0,"q1":0,"md":0,"q3":0,"hi":0},{"p":"GENT2c_M","f":"750","g":"B","lo":0,"q1":0.00015,"md":0.000315,"q3":0.00057,"hi":0.0012},{"p":"GENT2c_M","f":"1500","g":"A","lo":0,"q1":0,"md":0,"q3":0,"hi":0},{"p":"GENT2c_M","f":"1500","g":"B","lo":0,"q1":0,"md":0,"q3":0,"hi":0},
{"p":"GENT3c_M","f":"250","g":"A","lo":0,"q1":0,"md":0,"q3":0,"hi":0},{"p":"GENT3c_M","f":"250","g":"B","lo":0,"q1":0.000076,"md":0.000135,"q3":0.00021,"hi":0.0004},{"p":"GENT3c_M","f":"750","g":"A","lo":0,"q1":0,"md":0,"q3":0,"hi":0},{"p":"GENT3c_M","f":"750","g":"B","lo":0,"q1":0.00015,"md":0.000315,"q3":0.00057,"hi":0.0012},{"p":"GENT3c_M","f":"1500","g":"A","lo":0,"q1":0,"md":0,"q3":0,"hi":0},{"p":"GENT3c_M","f":"1500","g":"B","lo":0,"q1":0,"md":0,"q3":0,"hi":0},
{"p":"GENT4c_M","f":"250","g":"A","lo":0,"q1":0,"md":0,"q3":0,"hi":0},{"p":"GENT4c_M","f":"250","g":"B","lo":0,"q1":0.000076,"md":0.000135,"q3":0.00021,"hi":0.0004},{"p":"GENT4c_M","f":"750","g":"A","lo":0,"q1":0,"md":0,"q3":0,"hi":0},{"p":"GENT4c_M","f":"750","g":"B","lo":0,"q1":0.00015,"md":0.000315,"q3":0.00057,"hi":0.0012},{"p":"GENT4c_M","f":"1500","g":"A","lo":0,"q1":0,"md":0,"q3":0,"hi":0},{"p":"GENT4c_M","f":"1500","g":"B","lo":0,"q1":0,"md":0,"q3":0,"hi":0},
{"p":"GENT5c_M","f":"250","g":"A","lo":0,"q1":0,"md":0,"q3":0,"hi":0},{"p":"GENT5c_M","f":"250","g":"B","lo":0,"q1":0.000086,"md":0.000143,"q3":0.000215,"hi":0.00041},{"p":"GENT5c_M","f":"750","g":"A","lo":0,"q1":0,"md":0,"q3":0,"hi":0},{"p":"GENT5c_M","f":"750","g":"B","lo":0.00004,"q1":0.00049,"md":0.00074,"q3":0.00105,"hi":0.00191},{"p":"GENT5c_M","f":"1500","g":"A","lo":0,"q1":0,"md":0,"q3":0,"hi":0},{"p":"GENT5c_M","f":"1500","g":"B","lo":0,"q1":0,"md":0,"q3":0,"hi":0},
{"p":"GENT6c_M","f":"250","g":"A","lo":0,"q1":0,"md":0,"q3":0,"hi":0},{"p":"GENT6c_M","f":"250","g":"B","lo":0,"q1":0.00004,"md":0.000078,"q3":0.00015,"hi":0.00032},{"p":"GENT6c_M","f":"750","g":"A","lo":0,"q1":0,"md":0,"q3":0,"hi":0},{"p":"GENT6c_M","f":"750","g":"B","lo":0,"q1":0.000124,"md":0.00028,"q3":0.00057,"hi":0.00122},{"p":"GENT6c_M","f":"1500","g":"A","lo":0,"q1":0,"md":0,"q3":0,"hi":0},{"p":"GENT6c_M","f":"1500","g":"B","lo":0,"q1":0,"md":0,"q3":0,"hi":0},
{"p":"GENT7c_M","f":"250","g":"A","lo":0,"q1":0,"md":0,"q3":0,"hi":0},{"p":"GENT7c_M","f":"250","g":"B","lo":0,"q1":0.00004,"md":0.000075,"q3":0.000146,"hi":0.00031},{"p":"GENT7c_M","f":"750","g":"A","lo":0,"q1":0,"md":0,"q3":0,"hi":0},{"p":"GENT7c_M","f":"750","g":"B","lo":0,"q1":0.00012,"md":0.00028,"q3":0.00054,"hi":0.00118},{"p":"GENT7c_M","f":"1500","g":"A","lo":0,"q1":0,"md":0,"q3":0,"hi":0},{"p":"GENT7c_M","f":"1500","g":"B","lo":0,"q1":0,"md":0,"q3":0,"hi":0},
{"p":"GENT8c_M","f":"250","g":"A","lo":0,"q1":0,"md":0,"q3":0,"hi":0},{"p":"GENT8c_M","f":"250","g":"B","lo":0,"q1":0.00004,"md":0.000078,"q3":0.00015,"hi":0.00031},{"p":"GENT8c_M","f":"750","g":"A","lo":0,"q1":0,"md":0,"q3":0,"hi":0},{"p":"GENT8c_M","f":"750","g":"B","lo":0,"q1":0.00012,"md":0.00028,"q3":0.00055,"hi":0.00119},{"p":"GENT8c_M","f":"1500","g":"A","lo":0,"q1":0,"md":0,"q3":0,"hi":0},{"p":"GENT8c_M","f":"1500","g":"B","lo":0,"q1":0,"md":0,"q3":0,"hi":0},
{"p":"GENT9c_M","f":"250","g":"A","lo":0,"q1":0,"md":0,"q3":0,"hi":0},{"p":"GENT9c_M","f":"250","g":"B","lo":0,"q1":0.000036,"md":0.000072,"q3":0.00015,"hi":0.00032},{"p":"GENT9c_M","f":"750","g":"A","lo":0,"q1":0,"md":0,"q3":0,"hi":0},{"p":"GENT9c_M","f":"750","g":"B","lo":0,"q1":0.00012,"md":0.000275,"q3":0.00055,"hi":0.0012},{"p":"GENT9c_M","f":"1500","g":"A","lo":0,"q1":0,"md":0,"q3":0,"hi":0},{"p":"GENT9c_M","f":"1500","g":"B","lo":0,"q1":0,"md":0,"q3":0,"hi":0},
{"p":"CYARTFTc_M","f":"250","g":"A","lo":0,"q1":0,"md":0,"q3":0,"hi":0},{"p":"CYARTFTc_M","f":"250","g":"B","lo":0,"q1":0,"md":0,"q3":0,"hi":0},{"p":"CYARTFTc_M","f":"750","g":"A","lo":0,"q1":0,"md":0,"q3":0,"hi":0},{"p":"CYARTFTc_M","f":"750","g":"B","lo":0,"q1":0.00006,"md":0.000142,"q3":0.000284,"hi":0.00062},{"p":"CYARTFTc_M","f":"1500","g":"A","lo":0,"q1":0,"md":0,"q3":0,"hi":0},{"p":"CYARTFTc_M","f":"1500","g":"B","lo":0,"q1":0,"md":0,"q3":0,"hi":0},
{"p":"UDPGLTLNGc_M","f":"250","g":"A","lo":0,"q1":0,"md":0,"q3":0,"hi":0},{"p":"UDPGLTLNGc_M","f":"250","g":"B","lo":0,"q1":0.00004,"md":0.0001,"q3":0.00019,"hi":0.0004},{"p":"UDPGLTLNGc_M","f":"750","g":"A","lo":0,"q1":0,"md":0,"q3":0,"hi":0},{"p":"UDPGLTLNGc_M","f":"750","g":"B","lo":0,"q1":0.00017,"md":0.00037,"q3":0.00074,"hi":0.00161},{"p":"UDPGLTLNGc_M","f":"1500","g":"A","lo":0,"q1":0,"md":0,"q3":0,"hi":0},{"p":"UDPGLTLNGc_M","f":"1500","g":"B","lo":0,"q1":0,"md":0,"q3":0,"hi":0},
{"p":"UDPRMNLc_M","f":"250","g":"A","lo":0,"q1":0,"md":0,"q3":0,"hi":0},{"p":"UDPRMNLc_M","f":"250","g":"B","lo":0,"q1":0.00004,"md":0.0001,"q3":0.00019,"hi":0.0004},{"p":"UDPRMNLc_M","f":"750","g":"A","lo":0,"q1":0,"md":0,"q3":0,"hi":0},{"p":"UDPRMNLc_M","f":"750","g":"B","lo":0,"q1":0.00017,"md":0.00037,"q3":0.00074,"hi":0.00161},{"p":"UDPRMNLc_M","f":"1500","g":"A","lo":0,"q1":0,"md":0,"q3":0,"hi":0},{"p":"UDPRMNLc_M","f":"1500","g":"B","lo":0,"q1":0,"md":0,"q3":0,"hi":0},
{"p":"UDPGAPGNGc_M","f":"250","g":"A","lo":0,"q1":0,"md":0,"q3":0,"hi":0},{"p":"UDPGAPGNGc_M","f":"250","g":"B","lo":0,"q1":0.00004,"md":0.0001,"q3":0.00019,"hi":0.0004},{"p":"UDPGAPGNGc_M","f":"750","g":"A","lo":0,"q1":0,"md":0,"q3":0,"hi":0},{"p":"UDPGAPGNGc_M","f":"750","g":"B","lo":0,"q1":0.00017,"md":0.00037,"q3":0.00074,"hi":0.00161},{"p":"UDPGAPGNGc_M","f":"1500","g":"A","lo":0,"q1":0,"md":0,"q3":0,"hi":0},{"p":"UDPGAPGNGc_M","f":"1500","g":"B","lo":0,"q1":0,"md":0,"q3":0,"hi":0},
{"p":"UDPRMNAc_M","f":"250","g":"A","lo":0,"q1":0,"md":0,"q3":0,"hi":0},{"p":"UDPRMNAc_M","f":"250","g":"B","lo":0,"q1":0.00004,"md":0.0001,"q3":0.00019,"hi":0.0004},{"p":"UDPRMNAc_M","f":"750","g":"A","lo":0,"q1":0,"md":0,"q3":0,"hi":0},{"p":"UDPRMNAc_M","f":"750","g":"B","lo":0,"q1":0.00017,"md":0.00037,"q3":0.00074,"hi":0.00161},{"p":"UDPRMNAc_M","f":"1500","g":"A","lo":0,"q1":0,"md":0,"q3":0,"hi":0},{"p":"UDPRMNAc_M","f":"1500","g":"B","lo":0,"q1":0,"md":0,"q3":0,"hi":0}
]},
"config":{
"font":"DejaVu Sans",
"view":{"fill":"#eaeaf2","stroke":null,"discreteWidth":345,"continuousHeight":206.6},
"range":{"category":["#5975a4","#cc8963"]},
"scale":{"bandPaddingInner":0.2,"bandPaddingOuter":0.1},
"axis":{"domain":false,"ticks":false,"tickSize":0,"labelFontSize":13.9,"labelColor":"#262626","labelPadding":12,"titleFontSize":15.2,"titleFontWeight":"normal","titleColor":"#262626","titlePadding":6},
"axisX":{"grid":false,"labelAngle":0},
"axisY":{"grid":true,"gridColor":"#ffffff","gridWidth":1.3,"gridOpacity":1},
"title":{"fontSize":15.2,"fontWeight":"normal","color":"#262626","offset":5,"frame":"group"},
"rule":{"color":"#4c4c4c","strokeWidth":1.9},
"tick":{"color":"#4c4c4c","thickness":1.9,"opacity":1},
"bar":{"stroke":"#4c4c4c","strokeWidth":1.9,"opacity":1}
},
"title":{"text":"Flux values (umol/m^2s)","orient":"left","anchor":"middle","frame":"bounds","fontSize":15.2,"offset":2,"dx":21},
"hconcat":[{"title":{"text":"Photon Flux (umol/m2/s)","orient":"bottom","anchor":"middle","frame":"bounds","fontSize":15.2,"offset":238},
"vconcat":[{"title":{"text":"Reactions in the 'Flavonoid biosynthesis' group","anchor":"middle","frame":"bounds","fontSize":18.2,"offset":-16.5},
"columns":9,"spacing":{"row":63.9,"column":108.2},"bounds":"flush",
"concat":[
{"title":"PINCAOc_M","transform":[{"filter":"datum.p=='PINCAOc_M'"}],"encoding":{"x":{"field":"f","type":"nominal","sort":["250","750","1500"],"scale":{"type":"band"},"title":null},"xOffset":{"field":"g"},"y":{"field":"lo","type":"quantitative","title":"PINCAOc_M","scale":{"padding":9.4,"nice":false},"axis":{"values":[0,0.0005,0.001,0.0015,0.002],"format":".4f"}}},"layer":[{"mark":"rule","encoding":{"y2":{"field":"hi"}}},{"mark":{"type":"tick","size":23}},{"mark":{"type":"tick","size":23},"encoding":{"y":{"field":"hi","type":"quantitative"}}},{"mark":"bar","encoding":{"y":{"field":"q1","type":"quantitative"},"y2":{"field":"q3"},"color":{"field":"g","legend":null}}},{"mark":{"type":"tick","size":46},"encoding":{"y":{"field":"md","type":"quantitative"}}}]},
{"title":"MALCINNMTc_M","transform":[{"filter":"datum.p=='MALCINNMTc_M'"}],"encoding":{"x":{"field":"f","type":"nominal","sort":["250","750","1500"],"scale":{"type":"band"},"title":null},"xOffset":{"field":"g"},"y":{"field":"lo","type":"quantitative","title":"MALCINNMTc_M","scale":{"padding":9.4,"nice":false},"axis":{"values":[0,0.0005,0.001,0.0015,0.002],"format":".4f"}}},"layer":[{"mark":"rule","encoding":{"y2":{"field":"hi"}}},{"mark":{"type":"tick","size":23}},{"mark":{"type":"tick","size":23},"encoding":{"y":{"field":"hi","type":"quantitative"}}},{"mark":"bar","encoding":{"y":{"field":"q1","type":"quantitative"},"y2":{"field":"q3"},"color":{"field":"g","legend":null}}},{"mark":{"type":"tick","size":46},"encoding":{"y":{"field":"md","type":"quantitative"}}}]},
{"title":"PINCLc_M","transform":[{"filter":"datum.p=='PINCLc_M'"}],"encoding":{"x":{"field":"f","type":"nominal","sort":["250","750","1500"],"scale":{"type":"band"},"title":null},"xOffset":{"field":"g"},"y":{"field":"lo","type":"quantitative","title":"PINCLc_M","scale":{"padding":9.4,"nice":false},"axis":{"values":[0,0.0005,0.001,0.0015,0.002],"format":".4f"}}},"layer":[{"mark":"rule","encoding":{"y2":{"field":"hi"}}},{"mark":{"type":"tick","size":23}},{"mark":{"type":"tick","size":23},"encoding":{"y":{"field":"hi","type":"quantitative"}}},{"mark":"bar","encoding":{"y":{"field":"q1","type":"quantitative"},"y2":{"field":"q3"},"color":{"field":"g","legend":null}}},{"mark":{"type":"tick","size":46},"encoding":{"y":{"field":"md","type":"quantitative"}}}]},
{"title":"NRGNDOc_M","transform":[{"filter":"datum.p=='NRGNDOc_M'"}],"encoding":{"x":{"field":"f","type":"nominal","sort":["250","750","1500"],"scale":{"type":"band"},"title":null},"xOffset":{"field":"g"},"y":{"field":"lo","type":"quantitative","title":"NRGNDOc_M","scale":{"padding":9.4,"nice":false},"axis":{"values":[0,0.002,0.004,0.006,0.008],"format":".3f"}}},"layer":[{"mark":"rule","encoding":{"y2":{"field":"hi"}}},{"mark":{"type":"tick","size":23}},{"mark":{"type":"tick","size":23},"encoding":{"y":{"field":"hi","type":"quantitative"}}},{"mark":"bar","encoding":{"y":{"field":"q1","type":"quantitative"},"y2":{"field":"q3"},"color":{"field":"g","legend":null}}},{"mark":{"type":"tick","size":46},"encoding":{"y":{"field":"md","type":"quantitative"}}}]},
{"title":"DCHALSc_M","transform":[{"filter":"datum.p=='DCHALSc_M'"}],"encoding":{"x":{"field":"f","type":"nominal","sort":["250","750","1500"],"scale":{"type":"band"},"title":null},"xOffset":{"field":"g"},"y":{"field":"lo","type":"quantitative","title":"DCHALSc_M","scale":{"padding":9.4,"nice":false},"axis":{"values":[0,0.0005,0.001,0.0015,0.002,0.0025],"format":".4f"}}},"layer":[{"mark":"rule","encoding":{"y2":{"field":"hi"}}},{"mark":{"type":"tick","size":23}},{"mark":{"type":"tick","size":23},"encoding":{"y":{"field":"hi","type":"quantitative"}}},{"mark":"bar","encoding":{"y":{"field":"q1","type":"quantitative"},"y2":{"field":"q3"},"color":{"field":"g","legend":null}}},{"mark":{"type":"tick","size":46},"encoding":{"y":{"field":"md","type":"quantitative"}}}]},
{"title":"NRGCSc_M","transform":[{"filter":"datum.p=='NRGCSc_M'"}],"encoding":{"x":{"field":"f","type":"nominal","sort":["250","750","1500"],"scale":{"type":"band"},"title":null},"xOffset":{"field":"g"},"y":{"field":"lo","type":"quantitative","title":"NRGCSc_M","scale":{"padding":9.4,"nice":false},"axis":{"values":[0,0.005,0.01,0.015],"format":".3f"}}},"layer":[{"mark":"rule","encoding":{"y2":{"field":"hi"}}},{"mark":{"type":"tick","size":23}},{"mark":{"type":"tick","size":23},"encoding":{"y":{"field":"hi","type":"quantitative"}}},{"mark":"bar","encoding":{"y":{"field":"q1","type":"quantitative"},"y2":{"field":"q3"},"color":{"field":"g","legend":null}}},{"mark":{"type":"tick","size":46},"encoding":{"y":{"field":"md","type":"quantitative"}}}]},
{"title":"CHALIc_M","transform":[{"filter":"datum.p=='CHALIc_M'"}],"encoding":{"x":{"field":"f","type":"nominal","sort":["250","750","1500"],"scale":{"type":"band"},"title":null},"xOffset":{"field":"g"},"y":{"field":"lo","type":"quantitative","title":"CHALIc_M","scale":{"padding":9.4,"nice":false},"axis":{"values":[0,0.005,0.01,0.015],"format":".3f"}}},"layer":[{"mark":"rule","encoding":{"y2":{"field":"hi"}}},{"mark":{"type":"tick","size":23}},{"mark":{"type":"tick","size":23},"encoding":{"y":{"field":"hi","type":"quantitative"}}},{"mark":"bar","encoding":{"y":{"field":"q1","type":"quantitative"},"y2":{"field":"q3"},"color":{"field":"g","legend":null}}},{"mark":{"type":"tick","size":46},"encoding":{"y":{"field":"md","type":"quantitative"}}}]},
{"title":"NRGNNORc_M","transform":[{"filter":"datum.p=='NRGNNORc_M'"}],"encoding":{"x":{"field":"f","type":"nominal","sort":["250","750","1500"],"scale":{"type":"band"},"title":null},"xOffset":{"field":"g"},"y":{"field":"lo","type":"quantitative","title":"NRGNNORc_M","scale":{"padding":9.4,"nice":false},"axis":{"values":[0,0.001,0.002,0.003,0.004],"format":".3f"}}},"layer":[{"mark":"rule","encoding":{"y2":{"field":"hi"}}},{"mark":{"type":"tick","size":23}},{"mark":{"type":"tick","size":23},"encoding":{"y":{"field":"hi","type":"quantitative"}}},{"mark":"bar","encoding":{"y":{"field":"q1","type":"quantitative"},"y2":{"field":"q3"},"color":{"field":"g","legend":null}}},{"mark":{"type":"tick","size":46},"encoding":{"y":{"field":"md","type":"quantitative"}}}]},
{"title":"APG3Hc_M","transform":[{"filter":"datum.p=='APG3Hc_M'"}],"encoding":{"x":{"field":"f","type":"nominal","sort":["250","750","1500"],"scale":{"type":"band"},"title":null},"xOffset":{"field":"g"},"y":{"field":"lo","type":"quantitative","title":"APG3Hc_M","scale":{"padding":9.4,"nice":false},"axis":{"values":[0,0.001,0.002,0.003],"format":".3f"}}},"layer":[{"mark":"rule","encoding":{"y2":{"field":"hi"}}},{"mark":{"type":"tick","size":23}},{"mark":{"type":"tick","size":23},"encoding":{"y":{"field":"hi","type":"quantitative"}}},{"mark":"bar","encoding":{"y":{"field":"q1","type":"quantitative"},"y2":{"field":"q3"},"color":{"field":"g","legend":null}}},{"mark":{"type":"tick","size":46},"encoding":{"y":{"field":"md","type":"quantitative"}}}]},
{"title":"ERDTLHc_M","transform":[{"filter":"datum.p=='ERDTLHc_M'"}],"encoding":{"x":{"field":"f","type":"nominal","sort":["250","750","1500"],"scale":{"type":"band"},"title":null},"xOffset":{"field":"g"},"y":{"field":"lo","type":"quantitative","title":"ERDTLHc_M","scale":{"padding":9.4,"nice":false},"axis":{"values":[0,0.001,0.002,0.003,0.004],"format":".3f"}}},"layer":[{"mark":"rule","encoding":{"y2":{"field":"hi"}}},{"mark":{"type":"tick","size":23}},{"mark":{"type":"tick","size":23},"encoding":{"y":{"field":"hi","type":"quantitative"}}},{"mark":"bar","encoding":{"y":{"field":"q1","type":"quantitative"},"y2":{"field":"q3"},"color":{"field":"g","legend":null}}},{"mark":{"type":"tick","size":46},"encoding":{"y":{"field":"md","type":"quantitative"}}}]},
{"title":"2HEDBTSc_M","transform":[{"filter":"datum.p=='2HEDBTSc_M'"}],"encoding":{"x":{"field":"f","type":"nominal","sort":["250","750","1500"],"scale":{"type":"band"},"title":null},"xOffset":{"field":"g"},"y":{"field":"lo","type":"quantitative","title":"2HEDBTSc_M","scale":{"padding":9.4,"nice":false},"axis":{"values":[0,0.001,0.002,0.003,0.004],"format":".3f"}}},"layer":[{"mark":"rule","encoding":{"y2":{"field":"hi"}}},{"mark":{"type":"tick","size":23}},{"mark":{"type":"tick","size":23},"encoding":{"y":{"field":"hi","type":"quantitative"}}},{"mark":"bar","encoding":{"y":{"field":"q1","type":"quantitative"},"y2":{"field":"q3"},"color":{"field":"g","legend":null}}},{"mark":{"type":"tick","size":46},"encoding":{"y":{"field":"md","type":"quantitative"}}}]},
{"title":"2HEDBT6GTc_M","transform":[{"filter":"datum.p=='2HEDBT6GTc_M'"}],"encoding":{"x":{"field":"f","type":"nominal","sort":["250","750","1500"],"scale":{"type":"band"},"title":null},"xOffset":{"field":"g"},"y":{"field":"lo","type":"quantitative","title":"2HEDBT6GTc_M","scale":{"padding":9.4,"nice":false},"axis":{"values":[0,0.0005,0.001,0.0015,0.002,0.0025],"format":".4f"}}},"layer":[{"mark":"rule","encoding":{"y2":{"field":"hi"}}},{"mark":{"type":"tick","size":23}},{"mark":{"type":"tick","size":23},"encoding":{"y":{"field":"hi","type":"quantitative"}}},{"mark":"bar","encoding":{"y":{"field":"q1","type":"quantitative"},"y2":{"field":"q3"},"color":{"field":"g","legend":null}}},{"mark":{"type":"tick","size":46},"encoding":{"y":{"field":"md","type":"quantitative"}}}]},
{"title":"2HEDGDHc_M","transform":[{"filter":"datum.p=='2HEDGDHc_M'"}],"encoding":{"x":{"field":"f","type":"nominal","sort":["250","750","1500"],"scale":{"type":"band"},"title":null},"xOffset":{"field":"g"},"y":{"field":"lo","type":"quantitative","title":"2HEDGDHc_M","scale":{"padding":9.4,"nice":false},"axis":{"values":[0,0.0005,0.001,0.0015,0.002,0.0025],"format":".4f"}}},"layer":[{"mark":"rule","encoding":{"y2":{"field":"hi"}}},{"mark":{"type":"tick","size":23}},{"mark":{"type":"tick","size":23},"encoding":{"y":{"field":"hi","type":"quantitative"}}},{"mark":"bar","encoding":{"y":{"field":"q1","type":"quantitative"},"y2":{"field":"q3"},"color":{"field":"g","legend":null}}},{"mark":{"type":"tick","size":46},"encoding":{"y":{"field":"md","type":"quantitative"}}}]},
{"title":"2HEDBT8GTc_M","transform":[{"filter":"datum.p=='2HEDBT8GTc_M'"}],"encoding":{"x":{"field":"f","type":"nominal","sort":["250","750","1500"],"scale":{"type":"band"},"title":null},"xOffset":{"field":"g"},"y":{"field":"lo","type":"quantitative","title":"2HEDBT8GTc_M","scale":{"padding":9.4,"nice":false},"axis":{"values":[0,0.0005,0.001,0.0015,0.002],"format":".4f"}}},"layer":[{"mark":"rule","encoding":{"y2":{"field":"hi"}}},{"mark":{"type":"tick","size":23}},{"mark":{"type":"tick","size":23},"encoding":{"y":{"field":"hi","type":"quantitative"}}},{"mark":"bar","encoding":{"y":{"field":"q1","type":"quantitative"},"y2":{"field":"q3"},"color":{"field":"g","legend":null}}},{"mark":{"type":"tick","size":46},"encoding":{"y":{"field":"md","type":"quantitative"}}}]},
{"title":"ORNTNSc_M","transform":[{"filter":"datum.p=='ORNTNSc_M'"}],"encoding":{"x":{"field":"f","type":"nominal","sort":["250","750","1500"],"scale":{"type":"band"},"title":null},"xOffset":{"field":"g"},"y":{"field":"lo","type":"quantitative","title":"ORNTNSc_M","scale":{"padding":9.4,"nice":false},"axis":{"values":[0,0.0005,0.001,0.0015,0.002],"format":".4f"}}},"layer":[{"mark":"rule","encoding":{"y2":{"field":"hi"}}},{"mark":{"type":"tick","size":23}},{"mark":{"type":"tick","size":23},"encoding":{"y":{"field":"hi","type":"quantitative"}}},{"mark":"bar","encoding":{"y":{"field":"q1","type":"quantitative"},"y2":{"field":"q3"},"color":{"field":"g","legend":null}}},{"mark":{"type":"tick","size":46},"encoding":{"y":{"field":"md","type":"quantitative"}}}]},
{"title":"NRGNHc_M","transform":[{"filter":"datum.p=='NRGNHc_M'"}],"encoding":{"x":{"field":"f","type":"nominal","sort":["250","750","1500"],"scale":{"type":"band"},"title":null},"xOffset":{"field":"g"},"y":{"field":"lo","type":"quantitative","title":"NRGNHc_M","scale":{"padding":9.4,"nice":false},"axis":{"values":[0,0.0005,0.001,0.0015,0.002,0.0025],"format":".4f"}}},"layer":[{"mark":"rule","encoding":{"y2":{"field":"hi"}}},{"mark":{"type":"tick","size":23}},{"mark":{"type":"tick","size":23},"encoding":{"y":{"field":"hi","type":"quantitative"}}},{"mark":"bar","encoding":{"y":{"field":"q1","type":"quantitative"},"y2":{"field":"q3"},"color":{"field":"g","legend":null}}},{"mark":{"type":"tick","size":46},"encoding":{"y":{"field":"md","type":"quantitative"}}}]},
{"title":"2HNDBTSc_M","transform":[{"filter":"datum.p=='2HNDBTSc_M'"}],"encoding":{"x":{"field":"f","type":"nominal","sort":["250","750","1500"],"scale":{"type":"band"},"title":null},"xOffset":{"field":"g"},"y":{"field":"lo","type":"quantitative","title":"2HNDBTSc_M","scale":{"padding":9.4,"nice":false},"axis":{"values":[0,0.0005,0.001,0.0015,0.002,0.0025],"format":".4f"}}},"layer":[{"mark":"rule","encoding":{"y2":{"field":"hi"}}},{"mark":{"type":"tick","size":23}},{"mark":{"type":"tick","size":23},"encoding":{"y":{"field":"hi","type":"quantitative"}}},{"mark":"bar","encoding":{"y":{"field":"q1","type":"quantitative"},"y2":{"field":"q3"},"color":{"field":"g","legend":null}}},{"mark":{"type":"tick","size":46},"encoding":{"y":{"field":"md","type":"quantitative"}}}]},
{"title":"2HNDBT6GTc_M","transform":[{"filter":"datum.p=='2HNDBT6GTc_M'"}],"encoding":{"x":{"field":"f","type":"nominal","sort":["250","750","1500"],"scale":{"type":"band"},"title":null},"xOffset":{"field":"g"},"y":{"field":"lo","type":"quantitative","title":"2HNDBT6GTc_M","scale":{"padding":9.4,"nice":false},"axis":{"values":[0,0.0002,0.0004,0.0006,0.0008,0.001,0.0012],"format":".4f"}}},"layer":[{"mark":"rule","encoding":{"y2":{"field":"hi"}}},{"mark":{"type":"tick","size":23}},{"mark":{"type":"tick","size":23},"encoding":{"y":{"field":"hi","type":"quantitative"}}},{"mark":"bar","encoding":{"y":{"field":"q1","type":"quantitative"},"y2":{"field":"q3"},"color":{"field":"g","legend":null}}},{"mark":{"type":"tick","size":46},"encoding":{"y":{"field":"md","type":"quantitative"}}}]},
{"title":"2HNDGDHc_M","transform":[{"filter":"datum.p=='2HNDGDHc_M'"}],"encoding":{"x":{"field":"f","type":"nominal","sort":["250","750","1500"],"scale":{"type":"band"},"title":null},"xOffset":{"field":"g"},"y":{"field":"lo","type":"quantitative","title":"2HNDGDHc_M","scale":{"padding":9.4,"nice":false},"axis":{"values":[0,0.0002,0.0004,0.0006,0.0008,0.001,0.0012],"format":".4f"}}},"layer":[{"mark":"rule","encoding":{"y2":{"field":"hi"}}},{"mark":{"type":"tick","size":23}},{"mark":{"type":"tick","size":23},"encoding":{"y":{"field":"hi","type":"quantitative"}}},{"mark":"bar","encoding":{"y":{"field":"q1","type":"quantitative"},"y2":{"field":"q3"},"color":{"field":"g","legend":null}}},{"mark":{"type":"tick","size":46},"encoding":{"y":{"field":"md","type":"quantitative"}}}]},
{"title":{"text":"2HNDBT8GTc_M","offset":3.65},"transform":[{"filter":"datum.p=='2HNDBT8GTc_M'"}],"encoding":{"x":{"field":"f","type":"nominal","sort":["250","750","1500"],"scale":{"type":"band"},"title":null},"xOffset":{"field":"g"},"y":{"field":"lo","type":"quantitative","title":"2HNDBT8GTc_M","scale":{"padding":9.4,"nice":false},"axis":{"values":[0,0.0005,0.001,0.0015,0.002],"format":".4f"}}},"layer":[{"mark":"rule","encoding":{"y2":{"field":"hi"}}},{"mark":{"type":"tick","size":23}},{"mark":{"type":"tick","size":23},"encoding":{"y":{"field":"hi","type":"quantitative"}}},{"mark":"bar","encoding":{"y":{"field":"q1","type":"quantitative"},"y2":{"field":"q3"},"color":{"field":"g","legend":null}}},{"mark":{"type":"tick","size":46},"encoding":{"y":{"field":"md","type":"quantitative"}}}]},
{"title":{"text":"VTXNSc_M","offset":3.65},"transform":[{"filter":"datum.p=='VTXNSc_M'"}],"encoding":{"x":{"field":"f","type":"nominal","sort":["250","750","1500"],"scale":{"type":"band"},"title":null},"xOffset":{"field":"g"},"y":{"field":"lo","type":"quantitative","title":"VTXNSc_M","scale":{"padding":9.4,"nice":false},"axis":{"values":[0,0.0005,0.001,0.0015,0.002],"format":".4f"}}},"layer":[{"mark":"rule","encoding":{"y2":{"field":"hi"}}},{"mark":{"type":"tick","size":23}},{"mark":{"type":"tick","size":23},"encoding":{"y":{"field":"hi","type":"quantitative"}}},{"mark":"bar","encoding":{"y":{"field":"q1","type":"quantitative"},"y2":{"field":"q3"},"color":{"field":"g","legend":null}}},{"mark":{"type":"tick","size":46},"encoding":{"y":{"field":"md","type":"quantitative"}}}]},
{"title":"ISVTXNGTc_M","transform":[{"filter":"datum.p=='ISVTXNGTc_M'"}],"encoding":{"x":{"field":"f","type":"nominal","sort":["250","750","1500"],"scale":{"type":"band"},"title":null},"xOffset":{"field":"g"},"y":{"field":"lo","type":"quantitative","title":"ISVTXNGTc_M","scale":{"padding":9.4,"nice":false},"axis":{"values":[0,0.0002,0.0004,0.0006,0.0008,0.001,0.0012],"format":".4f"}}},"layer":[{"mark":"rule","encoding":{"y2":{"field":"hi"}}},{"mark":{"type":"tick","size":23}},{"mark":{"type":"tick","size":23},"encoding":{"y":{"field":"hi","type":"quantitative"}}},{"mark":"bar","encoding":{"y":{"field":"q1","type":"quantitative"},"y2":{"field":"q3"},"color":{"field":"g","legend":null}}},{"mark":{"type":"tick","size":46},"encoding":{"y":{"field":"md","type":"quantitative"}}}]},
{"title":"IORNTNMTc_M","transform":[{"filter":"datum.p=='IORNTNMTc_M'"}],"encoding":{"x":{"field":"f","type":"nominal","sort":["250","750","1500"],"scale":{"type":"band"},"title":null},"xOffset":{"field":"g"},"y":{"field":"lo","type":"quantitative","title":"IORNTNMTc_M","scale":{"padding":9.4,"nice":false},"axis":{"values":[0,0.0005,0.001,0.0015,0.002],"format":".4f"}}},"layer":[{"mark":"rule","encoding":{"y2":{"field":"hi"}}},{"mark":{"type":"tick","size":23}},{"mark":{"type":"tick","size":23},"encoding":{"y":{"field":"hi","type":"quantitative"}}},{"mark":"bar","encoding":{"y":{"field":"q1","type":"quantitative"},"y2":{"field":"q3"},"color":{"field":"g","legend":null}}},{"mark":{"type":"tick","size":46},"encoding":{"y":{"field":"md","type":"quantitative"}}}]},
{"title":"ISCPRNGTc_M","transform":[{"filter":"datum.p=='ISCPRNGTc_M'"}],"encoding":{"x":{"field":"f","type":"nominal","sort":["250","750","1500"],"scale":{"type":"band"},"title":null},"xOffset":{"field":"g"},"y":{"field":"lo","type":"quantitative","title":"ISCPRNGTc_M","scale":{"padding":9.4,"nice":false},"axis":{"values":[0,0.0005,0.001,0.0015,0.002],"format":".4f"}}},"layer":[{"mark":"rule","encoding":{"y2":{"field":"hi"}}},{"mark":{"type":"tick","size":23}},{"mark":{"type":"tick","size":23},"encoding":{"y":{"field":"hi","type":"quantitative"}}},{"mark":"bar","encoding":{"y":{"field":"q1","type":"quantitative"},"y2":{"field":"q3"},"color":{"field":"g","legend":null}}},{"mark":{"type":"tick","size":46},"encoding":{"y":{"field":"md","type":"quantitative"}}}]},
{"title":"IORNTNGTc_M","transform":[{"filter":"datum.p=='IORNTNGTc_M'"}],"encoding":{"x":{"field":"f","type":"nominal","sort":["250","750","1500"],"scale":{"type":"band"},"title":null},"xOffset":{"field":"g"},"y":{"field":"lo","type":"quantitative","title":"IORNTNGTc_M","scale":{"padding":9.4,"nice":false},"axis":{"values":[0,0.0002,0.0004,0.0006,0.0008,0.001,0.0012],"format":".4f"}}},"layer":[{"mark":"rule","encoding":{"y2":{"field":"hi"}}},{"mark":{"type":"tick","size":23}},{"mark":{"type":"tick","size":23},"encoding":{"y":{"field":"hi","type":"quantitative"}}},{"mark":"bar","encoding":{"y":{"field":"q1","type":"quantitative"},"y2":{"field":"q3"},"color":{"field":"g","legend":null}}},{"mark":{"type":"tick","size":46},"encoding":{"y":{"field":"md","type":"quantitative"}}}]},
{"title":"LTLNHOc_M","transform":[{"filter":"datum.p=='LTLNHOc_M'"}],"encoding":{"x":{"field":"f","type":"nominal","sort":["250","750","1500"],"scale":{"type":"band"},"title":null},"xOffset":{"field":"g"},"y":{"field":"lo","type":"quantitative","title":"LTLNHOc_M","scale":{"padding":9.4,"nice":false},"axis":{"values":[0,0.0005,0.001,0.0015,0.002,0.0025],"format":".4f"}}},"layer":[{"mark":"rule","encoding":{"y2":{"field":"hi"}}},{"mark":{"type":"tick","size":23}},{"mark":{"type":"tick","size":23},"encoding":{"y":{"field":"hi","type":"quantitative"}}},{"mark":"bar","encoding":{"y":{"field":"q1","type":"quantitative"},"y2":{"field":"q3"},"color":{"field":"g","legend":null}}},{"mark":{"type":"tick","size":46},"encoding":{"y":{"field":"md","type":"quantitative"}}}]},
{"title":"TRICINS1c_M","transform":[{"filter":"datum.p=='TRICINS1c_M'"}],"encoding":{"x":{"field":"f","type":"nominal","sort":["250","750","1500"],"scale":{"type":"band"},"title":null},"xOffset":{"field":"g"},"y":{"field":"lo","type":"quantitative","title":"TRICINS1c_M","scale":{"padding":9.4,"nice":false},"axis":{"values":[0,0.0005,0.001,0.0015,0.002,0.0025],"format":".4f"}}},"layer":[{"mark":"rule","encoding":{"y2":{"field":"hi"}}},{"mark":{"type":"tick","size":23}},{"mark":{"type":"tick","size":23},"encoding":{"y":{"field":"hi","type":"quantitative"}}},{"mark":"bar","encoding":{"y":{"field":"q1","type":"quantitative"},"y2":{"field":"q3"},"color":{"field":"g","legend":null}}},{"mark":{"type":"tick","size":46},"encoding":{"y":{"field":"md","type":"quantitative"}}}]},
{"title":"TRICINS2c_M","transform":[{"filter":"datum.p=='TRICINS2c_M'"}],"encoding":{"x":{"field":"f","type":"nominal","sort":["250","750","1500"],"scale":{"type":"band"},"title":null},"xOffset":{"field":"g"},"y":{"field":"lo","type":"quantitative","title":"TRICINS2c_M","scale":{"padding":9.4,"nice":false},"axis":{"values":[0,0.0005,0.001,0.0015,0.002,0.0025],"format":".4f"}}},"layer":[{"mark":"rule","encoding":{"y2":{"field":"hi"}}},{"mark":{"type":"tick","size":23}},{"mark":{"type":"tick","size":23},"encoding":{"y":{"field":"hi","type":"quantitative"}}},{"mark":"bar","encoding":{"y":{"field":"q1","type":"quantitative"},"y2":{"field":"q3"},"color":{"field":"g","legend":null}}},{"mark":{"type":"tick","size":46},"encoding":{"y":{"field":"md","type":"quantitative"}}}]},
{"title":"ISQTGNLc_M","transform":[{"filter":"datum.p=='ISQTGNLc_M'"}],"encoding":{"x":{"field":"f","type":"nominal","sort":["250","750","1500"],"scale":{"type":"band"},"title":null},"xOffset":{"field":"g"},"y":{"field":"lo","type":"quantitative","title":"ISQTGNLc_M","scale":{"padding":9.4,"nice":false},"axis":{"values":[0,0.0005,0.001,0.0015,0.002,0.0025],"format":".4f"}}},"layer":[{"mark":"rule","encoding":{"y2":{"field":"hi"}}},{"mark":{"type":"tick","size":23}},{"mark":{"type":"tick","size":23},"encoding":{"y":{"field":"hi","type":"quantitative"}}},{"mark":"bar","encoding":{"y":{"field":"q1","type":"quantitative"},"y2":{"field":"q3"},"color":{"field":"g","legend":null}}},{"mark":{"type":"tick","size":46},"encoding":{"y":{"field":"md","type":"quantitative"}}}]},
{"title":"LQTGN6Hc_M","transform":[{"filter":"datum.p=='LQTGN6Hc_M'"}],"encoding":{"x":{"field":"f","type":"nominal","sort":["250","750","1500"],"scale":{"type":"band"},"title":null},"xOffset":{"field":"g"},"y":{"field":"lo","type":"quantitative","title":"LQTGN6Hc_M","scale":{"padding":9.4,"nice":false},"axis":{"values":[0,0.0005,0.001,0.0015,0.002,0.0025],"format":".4f"}}},"layer":[{"mark":"rule","encoding":{"y2":{"field":"hi"}}},{"mark":{"type":"tick","size":23}},{"mark":{"type":"tick","size":23},"encoding":{"y":{"field":"hi","type":"quantitative"}}},{"mark":"bar","encoding":{"y":{"field":"q1","type":"quantitative"},"y2":{"field":"q3"},"color":{"field":"g","legend":null}}},{"mark":{"type":"tick","size":46},"encoding":{"y":{"field":"md","type":"quantitative"}}}]},
{"title":"NRGNMOc_M","transform":[{"filter":"datum.p=='NRGNMOc_M'"}],"encoding":{"x":{"field":"f","type":"nominal","sort":["250","750","1500"],"scale":{"type":"band"},"title":null},"xOffset":{"field":"g"},"y":{"field":"lo","type":"quantitative","title":"NRGNMOc_M","scale":{"padding":9.4,"nice":false},"axis":{"values":[0,0.002,0.004,0.006,0.008],"format":".3f"}}},"layer":[{"mark":"rule","encoding":{"y2":{"field":"hi"}}},{"mark":{"type":"tick","size":23}},{"mark":{"type":"tick","size":23},"encoding":{"y":{"field":"hi","type":"quantitative"}}},{"mark":"bar","encoding":{"y":{"field":"q1","type":"quantitative"},"y2":{"field":"q3"},"color":{"field":"g","legend":null}}},{"mark":{"type":"tick","size":46},"encoding":{"y":{"field":"md","type":"quantitative"}}}]},
{"title":"DHKFORc_M","transform":[{"filter":"datum.p=='DHKFORc_M'"}],"encoding":{"x":{"field":"f","type":"nominal","sort":["250","750","1500"],"scale":{"type":"band"},"title":null},"xOffset":{"field":"g"},"y":{"field":"lo","type":"quantitative","title":"DHKFORc_M","scale":{"padding":9.4,"nice":false},"axis":{"values":[0,0.0005,0.001,0.0015,0.002,0.0025],"format":".4f"}}},"layer":[{"mark":"rule","encoding":{"y2":{"field":"hi"}}},{"mark":{"type":"tick","size":23}},{"mark":{"type":"tick","size":23},"encoding":{"y":{"field":"hi","type":"quantitative"}}},{"mark":"bar","encoding":{"y":{"field":"q1","type":"quantitative"},"y2":{"field":"q3"},"color":{"field":"g","legend":null}}},{"mark":{"type":"tick","size":46},"encoding":{"y":{"field":"md","type":"quantitative"}}}]},
{"title":"DHQORc_M","transform":[{"filter":"datum.p=='DHQORc_M'"}],"encoding":{"x":{"field":"f","type":"nominal","sort":["250","750","1500"],"scale":{"type":"band"},"title":null},"xOffset":{"field":"g"},"y":{"field":"lo","type":"quantitative","title":"DHQORc_M","scale":{"padding":9.4,"nice":false},"axis":{"values":[0,0.0005,0.001,0.0015],"format":".4f"}}},"layer":[{"mark":"rule","encoding":{"y2":{"field":"hi"}}},{"mark":{"type":"tick","size":23}},{"mark":{"type":"tick","size":23},"encoding":{"y":{"field":"hi","type":"quantitative"}}},{"mark":"bar","encoding":{"y":{"field":"q1","type":"quantitative"},"y2":{"field":"q3"},"color":{"field":"g","legend":null}}},{"mark":{"type":"tick","size":46},"encoding":{"y":{"field":"md","type":"quantitative"}}}]},
{"title":"DHKMOc_M","transform":[{"filter":"datum.p=='DHKMOc_M'"}],"encoding":{"x":{"field":"f","type":"nominal","sort":["250","750","1500"],"scale":{"type":"band"},"title":null},"xOffset":{"field":"g"},"y":{"field":"lo","type":"quantitative","title":"DHKMOc_M","scale":{"padding":9.4,"nice":false},"axis":{"values":[0,0.001,0.002,0.003,0.004,0.005],"format":".3f"}}},"layer":[{"mark":"rule","encoding":{"y2":{"field":"hi"}}},{"mark":{"type":"tick","size":23}},{"mark":{"type":"tick","size":23},"encoding":{"y":{"field":"hi","type":"quantitative"}}},{"mark":"bar","encoding":{"y":{"field":"q1","type":"quantitative"},"y2":{"field":"q3"},"color":{"field":"g","legend":null}}},{"mark":{"type":"tick","size":46},"encoding":{"y":{"field":"md","type":"quantitative"}}}]},
{"title":{"text":"KMPFLMOc_M","offset":-0.35},"transform":[{"filter":"datum.p=='KMPFLMOc_M'"}],"encoding":{"x":{"field":"f","type":"nominal","sort":["250","750","1500"],"scale":{"type":"band"},"title":null},"xOffset":{"field":"g"},"y":{"field":"lo","type":"quantitative","title":"KMPFLMOc_M","scale":{"padding":9.4,"nice":false},"axis":{"values":[0,0.00025,0.0005,0.00075,0.001,0.00125,0.0015],"format":".5f"}}},"layer":[{"mark":"rule","encoding":{"y2":{"field":"hi"}}},{"mark":{"type":"tick","size":23}},{"mark":{"type":"tick","size":23},"encoding":{"y":{"field":"hi","type":"quantitative"}}},{"mark":"bar","encoding":{"y":{"field":"q1","type":"quantitative"},"y2":{"field":"q3"},"color":{"field":"g","legend":null}}},{"mark":{"type":"tick","size":46},"encoding":{"y":{"field":"md","type":"quantitative"}}}]},
{"title":"QRCTNGLT3c_M","transform":[{"filter":"datum.p=='QRCTNGLT3c_M'"}],"encoding":{"x":{"field":"f","type":"nominal","sort":["250","750","1500"],"scale":{"type":"band"},"title":null},"xOffset":{"field":"g"},"y":{"field":"lo","type":"quantitative","title":"QRCTNGLT3c_M","scale":{"padding":9.4,"nice":false},"axis":{"values":[0,0.0005,0.001,0.0015,0.002,0.0025],"format":".4f"}}},"layer":[{"mark":"rule","encoding":{"y2":{"field":"hi"}}},{"mark":{"type":"tick","size":23}},{"mark":{"type":"tick","size":23},"encoding":{"y":{"field":"hi","type":"quantitative"}}},{"mark":"bar","encoding":{"y":{"field":"q1","type":"quantitative"},"y2":{"field":"q3"},"color":{"field":"g","legend":null}}},{"mark":{"type":"tick","size":46},"encoding":{"y":{"field":"md","type":"quantitative"}}}]},
{"title":{"text":"KMPFLGLT3c_M","offset":-0.35},"transform":[{"filter":"datum.p=='KMPFLGLT3c_M'"}],"encoding":{"x":{"field":"f","type":"nominal","sort":["250","750","1500"],"scale":{"type":"band"},"title":null},"xOffset":{"field":"g"},"y":{"field":"lo","type":"quantitative","title":"KMPFLGLT3c_M","scale":{"padding":9.4,"nice":false},"axis":{"values":[0,0.00025,0.0005,0.00075,0.001,0.00125,0.0015],"format":".5f"}}},"layer":[{"mark":"rule","encoding":{"y2":{"field":"hi"}}},{"mark":{"type":"tick","size":23}},{"mark":{"type":"tick","size":23},"encoding":{"y":{"field":"hi","type":"quantitative"}}},{"mark":"bar","encoding":{"y":{"field":"q1","type":"quantitative"},"y2":{"field":"q3"},"color":{"field":"g","legend":null}}},{"mark":{"type":"tick","size":46},"encoding":{"y":{"field":"md","type":"quantitative"}}}]},
{"title":"DHKRc_M","transform":[{"filter":"datum.p=='DHKRc_M'"}],"encoding":{"x":{"field":"f","type":"nominal","sort":["250","750","1500"],"scale":{"type":"band"},"title":null},"xOffset":{"field":"g"},"y":{"field":"lo","type":"quantitative","title":"DHKRc_M","scale":{"padding":9.4,"nice":false},"axis":{"values":[0,0.001,0.002,0.003,0.004],"format":".3f"}}},"layer":[{"mark":"rule","encoding":{"y2":{"field":"hi"}}},{"mark":{"type":"tick","size":23}},{"mark":{"type":"tick","size":23},"encoding":{"y":{"field":"hi","type":"quantitative"}}},{"mark":"bar","encoding":{"y":{"field":"q1","type":"quantitative"},"y2":{"field":"q3"},"color":{"field":"g","legend":null}}},{"mark":{"type":"tick","size":46},"encoding":{"y":{"field":"md","type":"quantitative"}}}]},
{"title":"LCYCORc_M","transform":[{"filter":"datum.p=='LCYCORc_M'"}],"encoding":{"x":{"field":"f","type":"nominal","sort":["250","750","1500"],"scale":{"type":"band"},"title":null},"xOffset":{"field":"g"},"y":{"field":"lo","type":"quantitative","title":"LCYCORc_M","scale":{"padding":9.4,"nice":false},"axis":{"values":[0,0.001,0.002,0.003,0.004,0.005],"format":".3f"}}},"layer":[{"mark":"rule","encoding":{"y2":{"field":"hi"}}},{"mark":{"type":"tick","size":23}},{"mark":{"type":"tick","size":23},"encoding":{"y":{"field":"hi","type":"quantitative"}}},{"mark":"bar","encoding":{"y":{"field":"q1","type":"quantitative"},"y2":{"field":"q3"},"color":{"field":"g","legend":null}}},{"mark":{"type":"tick","size":46},"encoding":{"y":{"field":"md","type":"quantitative"}}}]},
{"title":"ERYORc_M","transform":[{"filter":"datum.p=='ERYORc_M'"}],"encoding":{"x":{"field":"f","type":"nominal","sort":["250","750","1500"],"scale":{"type":"band"},"title":null},"xOffset":{"field":"g"},"y":{"field":"lo","type":"quantitative","title":"ERYORc_M","scale":{"padding":9.4,"nice":false},"axis":{"values":[0,0.001,0.002,0.003,0.004,0.005],"format":".3f"}}},"layer":[{"mark":"rule","encoding":{"y2":{"field":"hi"}}},{"mark":{"type":"tick","size":23}},{"mark":{"type":"tick","size":23},"encoding":{"y":{"field":"hi","type":"quantitative"}}},{"mark":"bar","encoding":{"y":{"field":"q1","type":"quantitative"},"y2":{"field":"q3"},"color":{"field":"g","legend":null}}},{"mark":{"type":"tick","size":46},"encoding":{"y":{"field":"md","type":"quantitative"}}}]},
{"title":"LPLGRc_M","transform":[{"filter":"datum.p=='LPLGRc_M'"}],"encoding":{"x":{"field":"f","type":"nominal","sort":["250","750","1500"],"scale":{"type":"band"},"title":null},"xOffset":{"field":"g"},"y":{"field":"lo","type":"quantitative","title":"LPLGRc_M","scale":{"padding":9.4,"nice":false},"axis":{"values":[0,0.0005,0.001,0.0015,0.002],"format":".4f"}}},"layer":[{"mark":"rule","encoding":{"y2":{"field":"hi"}}},{"mark":{"type":"tick","size":23}},{"mark":{"type":"tick","size":23},"encoding":{"y":{"field":"hi","type":"quantitative"}}},{"mark":"bar","encoding":{"y":{"field":"q1","type":"quantitative"},"y2":{"field":"q3"},"color":{"field":"g","legend":null}}},{"mark":{"type":"tick","size":46},"encoding":{"y":{"field":"md","type":"quantitative"}}}]},
{"title":"LCYCRc_M","transform":[{"filter":"datum.p=='LCYCRc_M'"}],"encoding":{"x":{"field":"f","type":"nominal","sort":["250","750","1500"],"scale":{"type":"band"},"title":null},"xOffset":{"field":"g"},"y":{"field":"lo","type":"quantitative","title":"LCYCRc_M","scale":{"padding":9.4,"nice":false},"axis":{"values":[0,0.0005,0.001,0.0015,0.002,0.0025],"format":".4f"}}},"layer":[{"mark":"rule","encoding":{"y2":{"field":"hi"}}},{"mark":{"type":"tick","size":23}},{"mark":{"type":"tick","size":23},"encoding":{"y":{"field":"hi","type":"quantitative"}}},{"mark":"bar","encoding":{"y":{"field":"q1","type":"quantitative"},"y2":{"field":"q3"},"color":{"field":"g","legend":null}}},{"mark":{"type":"tick","size":46},"encoding":{"y":{"field":"md","type":"quantitative"}}}]},
{"title":"LPLGDOc_M","transform":[{"filter":"datum.p=='LPLGDOc_M'"}],"encoding":{"x":{"field":"f","type":"nominal","sort":["250","750","1500"],"scale":{"type":"band"},"title":null},"xOffset":{"field":"g"},"y":{"field":"lo","type":"quantitative","title":"LPLGDOc_M","scale":{"padding":9.4,"nice":false},"axis":{"values":[0,0.0005,0.001,0.0015,0.002,0.0025],"format":".4f"}}},"layer":[{"mark":"rule","encoding":{"y2":{"field":"hi"}}},{"mark":{"type":"tick","size":23}},{"mark":{"type":"tick","size":23},"encoding":{"y":{"field":"hi","type":"quantitative"}}},{"mark":"bar","encoding":{"y":{"field":"q1","type":"quantitative"},"y2":{"field":"q3"},"color":{"field":"g","legend":null}}},{"mark":{"type":"tick","size":46},"encoding":{"y":{"field":"md","type":"quantitative"}}}]},
{"title":{"text":"PNGLTc_M","offset":-0.35},"transform":[{"filter":"datum.p=='PNGLTc_M'"}],"encoding":{"x":{"field":"f","type":"nominal","sort":["250","750","1500"],"scale":{"type":"band"},"title":null},"xOffset":{"field":"g"},"y":{"field":"lo","type":"quantitative","title":"PNGLTc_M","scale":{"padding":9.4,"nice":false},"axis":{"values":[0,0.00025,0.0005,0.00075,0.001,0.00125,0.0015],"format":".5f"}}},"layer":[{"mark":"rule","encoding":{"y2":{"field":"hi"}}},{"mark":{"type":"tick","size":23}},{"mark":{"type":"tick","size":23},"encoding":{"y":{"field":"hi","type":"quantitative"}}},{"mark":"bar","encoding":{"y":{"field":"q1","type":"quantitative"},"y2":{"field":"q3"},"color":{"field":"g","legend":null}}},{"mark":{"type":"tick","size":46},"encoding":{"y":{"field":"md","type":"quantitative"}}}]},
{"title":"PLGNRc_M","transform":[{"filter":"datum.p=='PLGNRc_M'"}],"encoding":{"x":{"field":"f","type":"nominal","sort":["250","750","1500"],"scale":{"type":"band"},"title":null},"xOffset":{"field":"g"},"y":{"field":"lo","type":"quantitative","title":"PLGNRc_M","scale":{"padding":9.4,"nice":false},"axis":{"values":[0,0.0005,0.001,0.0015],"format":".4f"}}},"layer":[{"mark":"rule","encoding":{"y2":{"field":"hi"}}},{"mark":{"type":"tick","size":23}},{"mark":{"type":"tick","size":23},"encoding":{"y":{"field":"hi","type":"quantitative"}}},{"mark":"bar","encoding":{"y":{"field":"q1","type":"quantitative"},"y2":{"field":"q3"},"color":{"field":"g","legend":null}}},{"mark":{"type":"tick","size":46},"encoding":{"y":{"field":"md","type":"quantitative"}}}]},
{"title":"CNDNRc_M","transform":[{"filter":"datum.p=='CNDNRc_M'"}],"encoding":{"x":{"field":"f","type":"nominal","sort":["250","750","1500"],"scale":{"type":"band"},"title":null},"xOffset":{"field":"g"},"y":{"field":"lo","type":"quantitative","title":"CNDNRc_M","scale":{"padding":9.4,"nice":false},"axis":{"values":[0,0.0005,0.001,0.0015,0.002],"format":".4f"}}},"layer":[{"mark":"rule","encoding":{"y2":{"field":"hi"}}},{"mark":{"type":"tick","size":23}},{"mark":{"type":"tick","size":23},"encoding":{"y":{"field":"hi","type":"quantitative"}}},{"mark":"bar","encoding":{"y":{"field":"q1","type":"quantitative"},"y2":{"field":"q3"},"color":{"field":"g","legend":null}}},{"mark":{"type":"tick","size":46},"encoding":{"y":{"field":"md","type":"quantitative"}}}]},
{"title":"CNDNGLTc_M","transform":[{"filter":"datum.p=='CNDNGLTc_M'"}],"encoding":{"x":{"field":"f","type":"nominal","sort":["250","750","1500"],"scale":{"type":"band"},"title":null},"xOffset":{"field":"g"},"y":{"field":"lo","type":"quantitative","title":"CNDNGLTc_M","scale":{"padding":9.4,"nice":false},"axis":{"values":[0,0.00025,0.0005,0.00075,0.001,0.00125],"format":".5f"}}},"layer":[{"mark":"rule","encoding":{"y2":{"field":"hi"}}},{"mark":{"type":"tick","size":23}},{"mark":{"type":"tick","size":23},"encoding":{"y":{"field":"hi","type":"quantitative"}}},{"mark":"bar","encoding":{"y":{"field":"q1","type":"quantitative"},"y2":{"field":"q3"},"color":{"field":"g","legend":null}}},{"mark":{"type":"tick","size":46},"encoding":{"y":{"field":"md","type":"quantitative"}}}]},
{"title":"CNDNGLT5c_M","transform":[{"filter":"datum.p=='CNDNGLT5c_M'"}],"encoding":{"x":{"field":"f","type":"nominal","sort":["250","750","1500"],"scale":{"type":"band"},"title":null},"xOffset":{"field":"g"},"y":{"field":"lo","type":"quantitative","title":"CNDNGLT5c_M","scale":{"padding":9.4,"nice":false},"axis":{"values":[0,0.00025,0.0005,0.00075,0.001,0.00125],"format":".5f"}}},"layer":[{"mark":"rule","encoding":{"y2":{"field":"hi"}}},{"mark":{"type":"tick","size":23}},{"mark":{"type":"tick","size":23},"encoding":{"y":{"field":"hi","type":"quantitative"}}},{"mark":"bar","encoding":{"y":{"field":"q1","type":"quantitative"},"y2":{"field":"q3"},"color":{"field":"g","legend":null}}},{"mark":{"type":"tick","size":46},"encoding":{"y":{"field":"md","type":"quantitative"}}}]},
{"title":"CNDNG3Gc_M","transform":[{"filter":"datum.p=='CNDNG3Gc_M'"}],"encoding":{"x":{"field":"f","type":"nominal","sort":["250","750","1500"],"scale":{"type":"band"},"title":null},"xOffset":{"field":"g"},"y":{"field":"lo","type":"quantitative","title":"CNDNG3Gc_M","scale":{"padding":9.4,"nice":false},"axis":{"values":[0,0.00025,0.0005,0.00075,0.001,0.00125],"format":".5f"}}},"layer":[{"mark":"rule","encoding":{"y2":{"field":"hi"}}},{"mark":{"type":"tick","size":23}},{"mark":{"type":"tick","size":23},"encoding":{"y":{"field":"hi","type":"quantitative"}}},{"mark":"bar","encoding":{"y":{"field":"q1","type":"quantitative"},"y2":{"field":"q3"},"color":{"field":"g","legend":null}}},{"mark":{"type":"tick","size":46},"encoding":{"y":{"field":"md","type":"quantitative"}}}]},
{"title":"CNDNG5Gc_M","transform":[{"filter":"datum.p=='CNDNG5Gc_M'"}],"encoding":{"x":{"field":"f","type":"nominal","sort":["250","750","1500"],"scale":{"type":"band"},"title":null},"xOffset":{"field":"g"},"y":{"field":"lo","type":"quantitative","title":"CNDNG5Gc_M","scale":{"padding":9.4,"nice":false},"axis":{"values":[0,0.00025,0.0005,0.00075,0.001,0.00125],"format":".5f"}}},"layer":[{"mark":"rule","encoding":{"y2":{"field":"hi"}}},{"mark":{"type":"tick","size":23}},{"mark":{"type":"tick","size":23},"encoding":{"y":{"field":"hi","type":"quantitative"}}},{"mark":"bar","encoding":{"y":{"field":"q1","type":"quantitative"},"y2":{"field":"q3"},"color":{"field":"g","legend":null}}},{"mark":{"type":"tick","size":46},"encoding":{"y":{"field":"md","type":"quantitative"}}}]},
{"title":{"text":"LCYCDOc_M","offset":-0.9},"transform":[{"filter":"datum.p=='LCYCDOc_M'"}],"encoding":{"x":{"field":"f","type":"nominal","sort":["250","750","1500"],"scale":{"type":"band"},"title":null},"xOffset":{"field":"g"},"y":{"field":"lo","type":"quantitative","title":"LCYCDOc_M","scale":{"padding":9.4,"nice":false},"axis":{"values":[0,0.001,0.002,0.003,0.004],"format":".3f"}}},"layer":[{"mark":"rule","encoding":{"y2":{"field":"hi"}}},{"mark":{"type":"tick","size":23}},{"mark":{"type":"tick","size":23},"encoding":{"y":{"field":"hi","type":"quantitative"}}},{"mark":"bar","encoding":{"y":{"field":"q1","type":"quantitative"},"y2":{"field":"q3"},"color":{"field":"g","legend":null}}},{"mark":{"type":"tick","size":46},"encoding":{"y":{"field":"md","type":"quantitative"}}}]},
{"title":{"text":"DHQRc_M","offset":-0.37},"transform":[{"filter":"datum.p=='DHQRc_M'"}],"encoding":{"x":{"field":"f","type":"nominal","sort":["250","750","1500"],"scale":{"type":"band"},"title":null},"xOffset":{"field":"g"},"y":{"field":"lo","type":"quantitative","title":"DHQRc_M","scale":{"padding":9.4,"nice":false},"axis":{"values":[0,0.0005,0.001,0.0015,0.002],"format":".4f"}}},"layer":[{"mark":"rule","encoding":{"y2":{"field":"hi"}}},{"mark":{"type":"tick","size":23}},{"mark":{"type":"tick","size":23},"encoding":{"y":{"field":"hi","type":"quantitative"}}},{"mark":"bar","encoding":{"y":{"field":"q1","type":"quantitative"},"y2":{"field":"q3"},"color":{"field":"g","legend":null}}},{"mark":{"type":"tick","size":46},"encoding":{"y":{"field":"md","type":"quantitative"}}}]},
{"title":{"text":"LCAKGORc_M","offset":-0.37},"transform":[{"filter":"datum.p=='LCAKGORc_M'"}],"encoding":{"x":{"field":"f","type":"nominal","sort":["250","750","1500"],"scale":{"type":"band"},"title":null},"xOffset":{"field":"g"},"y":{"field":"lo","type":"quantitative","title":"LCAKGORc_M","scale":{"padding":9.4,"nice":false},"axis":{"values":[0,0.0005,0.001,0.0015,0.002],"format":".4f"}}},"layer":[{"mark":"rule","encoding":{"y2":{"field":"hi"}}},{"mark":{"type":"tick","size":23}},{"mark":{"type":"tick","size":23},"encoding":{"y":{"field":"hi","type":"quantitative"}}},{"mark":"bar","encoding":{"y":{"field":"q1","type":"quantitative"},"y2":{"field":"q3"},"color":{"field":"g","legend":null}}},{"mark":{"type":"tick","size":46},"encoding":{"y":{"field":"md","type":"quantitative"}}}]},
{"title":{"text":"UDPGATc_M","offset":-0.37},"transform":[{"filter":"datum.p=='UDPGATc_M'"}],"encoding":{"x":{"field":"f","type":"nominal","sort":["250","750","1500"],"scale":{"type":"band"},"title":null},"xOffset":{"field":"g"},"y":{"field":"lo","type":"quantitative","title":"UDPGATc_M","scale":{"padding":9.4,"nice":false},"axis":{"values":[0,0.0005,0.001,0.0015,0.002],"format":".4f"}}},"layer":[{"mark":"rule","encoding":{"y2":{"field":"hi"}}},{"mark":{"type":"tick","size":23}},{"mark":{"type":"tick","size":23},"encoding":{"y":{"field":"hi","type":"quantitative"}}},{"mark":"bar","encoding":{"y":{"field":"q1","type":"quantitative"},"y2":{"field":"q3"},"color":{"field":"g","legend":null}}},{"mark":{"type":"tick","size":46},"encoding":{"y":{"field":"md","type":"quantitative"}}}]},
{"title":{"text":"UDPGAGGc_M","offset":-1.4},"transform":[{"filter":"datum.p=='UDPGAGGc_M'"}],"encoding":{"x":{"field":"f","type":"nominal","sort":["250","750","1500"],"scale":{"type":"band"},"title":null},"xOffset":{"field":"g"},"y":{"field":"lo","type":"quantitative","title":"UDPGAGGc_M","scale":{"padding":9.4,"nice":false},"axis":{"values":[0,0.0005,0.001,0.0015,0.002],"format":".4f"}}},"layer":[{"mark":"rule","encoding":{"y2":{"field":"hi"}}},{"mark":{"type":"tick","size":23}},{"mark":{"type":"tick","size":23},"encoding":{"y":{"field":"hi","type":"quantitative"}}},{"mark":"bar","encoding":{"y":{"field":"q1","type":"quantitative"},"y2":{"field":"q3"},"color":{"field":"g","legend":null}}},{"mark":{"type":"tick","size":46},"encoding":{"y":{"field":"md","type":"quantitative"}}}]},
{"title":"GENT1c_M","transform":[{"filter":"datum.p=='GENT1c_M'"}],"encoding":{"x":{"field":"f","type":"nominal","sort":["250","750","1500"],"scale":{"type":"band"},"title":null},"xOffset":{"field":"g"},"y":{"field":"lo","type":"quantitative","title":"GENT1c_M","scale":{"padding":9.4,"nice":false},"axis":{"values":[0,0.0002,0.0004,0.0006,0.0008,0.001,0.0012],"format":".4f"}}},"layer":[{"mark":"rule","encoding":{"y2":{"field":"hi"}}},{"mark":{"type":"tick","size":23}},{"mark":{"type":"tick","size":23},"encoding":{"y":{"field":"hi","type":"quantitative"}}},{"mark":"bar","encoding":{"y":{"field":"q1","type":"quantitative"},"y2":{"field":"q3"},"color":{"field":"g","legend":null}}},{"mark":{"type":"tick","size":46},"encoding":{"y":{"field":"md","type":"quantitative"}}}]},
{"title":"GENT2c_M","transform":[{"filter":"datum.p=='GENT2c_M'"}],"encoding":{"x":{"field":"f","type":"nominal","sort":["250","750","1500"],"scale":{"type":"band"},"title":null},"xOffset":{"field":"g"},"y":{"field":"lo","type":"quantitative","title":"GENT2c_M","scale":{"padding":9.4,"nice":false},"axis":{"values":[0,0.0002,0.0004,0.0006,0.0008,0.001,0.0012],"format":".4f"}}},"layer":[{"mark":"rule","encoding":{"y2":{"field":"hi"}}},{"mark":{"type":"tick","size":23}},{"mark":{"type":"tick","size":23},"encoding":{"y":{"field":"hi","type":"quantitative"}}},{"mark":"bar","encoding":{"y":{"field":"q1","type":"quantitative"},"y2":{"field":"q3"},"color":{"field":"g","legend":null}}},{"mark":{"type":"tick","size":46},"encoding":{"y":{"field":"md","type":"quantitative"}}}]},
{"title":"GENT3c_M","transform":[{"filter":"datum.p=='GENT3c_M'"}],"encoding":{"x":{"field":"f","type":"nominal","sort":["250","750","1500"],"scale":{"type":"band"},"title":null},"xOffset":{"field":"g"},"y":{"field":"lo","type":"quantitative","title":"GENT3c_M","scale":{"padding":9.4,"nice":false},"axis":{"values":[0,0.0002,0.0004,0.0006,0.0008,0.001,0.0012],"format":".4f"}}},"layer":[{"mark":"rule","encoding":{"y2":{"field":"hi"}}},{"mark":{"type":"tick","size":23}},{"mark":{"type":"tick","size":23},"encoding":{"y":{"field":"hi","type":"quantitative"}}},{"mark":"bar","encoding":{"y":{"field":"q1","type":"quantitative"},"y2":{"field":"q3"},"color":{"field":"g","legend":null}}},{"mark":{"type":"tick","size":46},"encoding":{"y":{"field":"md","type":"quantitative"}}}]},
{"title":"GENT4c_M","transform":[{"filter":"datum.p=='GENT4c_M'"}],"encoding":{"x":{"field":"f","type":"nominal","sort":["250","750","1500"],"scale":{"type":"band"},"title":null},"xOffset":{"field":"g"},"y":{"field":"lo","type":"quantitative","title":"GENT4c_M","scale":{"padding":9.4,"nice":false},"axis":{"values":[0,0.0002,0.0004,0.0006,0.0008,0.001,0.0012],"format":".4f"}}},"layer":[{"mark":"rule","encoding":{"y2":{"field":"hi"}}},{"mark":{"type":"tick","size":23}},{"mark":{"type":"tick","size":23},"encoding":{"y":{"field":"hi","type":"quantitative"}}},{"mark":"bar","encoding":{"y":{"field":"q1","type":"quantitative"},"y2":{"field":"q3"},"color":{"field":"g","legend":null}}},{"mark":{"type":"tick","size":46},"encoding":{"y":{"field":"md","type":"quantitative"}}}]},
{"title":{"text":"GENT5c_M","offset":-1.4},"transform":[{"filter":"datum.p=='GENT5c_M'"}],"encoding":{"x":{"field":"f","type":"nominal","sort":["250","750","1500"],"scale":{"type":"band"},"title":null},"xOffset":{"field":"g"},"y":{"field":"lo","type":"quantitative","title":"GENT5c_M","scale":{"padding":9.4,"nice":false},"axis":{"values":[0,0.0005,0.001,0.0015,0.002],"format":".4f"}}},"layer":[{"mark":"rule","encoding":{"y2":{"field":"hi"}}},{"mark":{"type":"tick","size":23}},{"mark":{"type":"tick","size":23},"encoding":{"y":{"field":"hi","type":"quantitative"}}},{"mark":"bar","encoding":{"y":{"field":"q1","type":"quantitative"},"y2":{"field":"q3"},"color":{"field":"g","legend":null}}},{"mark":{"type":"tick","size":46},"encoding":{"y":{"field":"md","type":"quantitative"}}}]},
{"title":"GENT6c_M","transform":[{"filter":"datum.p=='GENT6c_M'"}],"encoding":{"x":{"field":"f","type":"nominal","sort":["250","750","1500"],"scale":{"type":"band"},"title":null},"xOffset":{"field":"g"},"y":{"field":"lo","type":"quantitative","title":"GENT6c_M","scale":{"padding":9.4,"nice":false},"axis":{"values":[0,0.0002,0.0004,0.0006,0.0008,0.001,0.0012],"format":".4f"}}},"layer":[{"mark":"rule","encoding":{"y2":{"field":"hi"}}},{"mark":{"type":"tick","size":23}},{"mark":{"type":"tick","size":23},"encoding":{"y":{"field":"hi","type":"quantitative"}}},{"mark":"bar","encoding":{"y":{"field":"q1","type":"quantitative"},"y2":{"field":"q3"},"color":{"field":"g","legend":null}}},{"mark":{"type":"tick","size":46},"encoding":{"y":{"field":"md","type":"quantitative"}}}]},
{"title":{"text":"GENT7c_M","offset":4.25},"transform":[{"filter":"datum.p=='GENT7c_M'"}],"encoding":{"x":{"field":"f","type":"nominal","sort":["250","750","1500"],"scale":{"type":"band"},"title":null},"xOffset":{"field":"g"},"y":{"field":"lo","type":"quantitative","title":"GENT7c_M","scale":{"padding":9.4,"nice":false},"axis":{"values":[0,0.0002,0.0004,0.0006,0.0008,0.001,0.0012],"format":".4f"}}},"layer":[{"mark":"rule","encoding":{"y2":{"field":"hi"}}},{"mark":{"type":"tick","size":23}},{"mark":{"type":"tick","size":23},"encoding":{"y":{"field":"hi","type":"quantitative"}}},{"mark":"bar","encoding":{"y":{"field":"q1","type":"quantitative"},"y2":{"field":"q3"},"color":{"field":"g","legend":null}}},{"mark":{"type":"tick","size":46},"encoding":{"y":{"field":"md","type":"quantitative"}}}]},
{"title":"GENT8c_M","transform":[{"filter":"datum.p=='GENT8c_M'"}],"encoding":{"x":{"field":"f","type":"nominal","sort":["250","750","1500"],"scale":{"type":"band"},"title":null},"xOffset":{"field":"g"},"y":{"field":"lo","type":"quantitative","title":"GENT8c_M","scale":{"padding":9.4,"nice":false},"axis":{"values":[0,0.0002,0.0004,0.0006,0.0008,0.001,0.0012],"format":".4f"}}},"layer":[{"mark":"rule","encoding":{"y2":{"field":"hi"}}},{"mark":{"type":"tick","size":23}},{"mark":{"type":"tick","size":23},"encoding":{"y":{"field":"hi","type":"quantitative"}}},{"mark":"bar","encoding":{"y":{"field":"q1","type":"quantitative"},"y2":{"field":"q3"},"color":{"field":"g","legend":null}}},{"mark":{"type":"tick","size":46},"encoding":{"y":{"field":"md","type":"quantitative"}}}]},
{"title":"GENT9c_M","transform":[{"filter":"datum.p=='GENT9c_M'"}],"encoding":{"x":{"field":"f","type":"nominal","sort":["250","750","1500"],"scale":{"type":"band"},"title":null},"xOffset":{"field":"g"},"y":{"field":"lo","type":"quantitative","title":"GENT9c_M","scale":{"padding":9.4,"nice":false},"axis":{"values":[0,0.0002,0.0004,0.0006,0.0008,0.001,0.0012],"format":".4f"}}},"layer":[{"mark":"rule","encoding":{"y2":{"field":"hi"}}},{"mark":{"type":"tick","size":23}},{"mark":{"type":"tick","size":23},"encoding":{"y":{"field":"hi","type":"quantitative"}}},{"mark":"bar","encoding":{"y":{"field":"q1","type":"quantitative"},"y2":{"field":"q3"},"color":{"field":"g","legend":null}}},{"mark":{"type":"tick","size":46},"encoding":{"y":{"field":"md","type":"quantitative"}}}]},
{"title":"CYARTFTc_M","transform":[{"filter":"datum.p=='CYARTFTc_M'"}],"encoding":{"x":{"field":"f","type":"nominal","sort":["250","750","1500"],"scale":{"type":"band"},"title":null},"xOffset":{"field":"g"},"y":{"field":"lo","type":"quantitative","title":"CYARTFTc_M","scale":{"padding":9.4,"nice":false},"axis":{"values":[0,0.0001,0.0002,0.0003,0.0004,0.0005,0.0006],"format":".4f"}}},"layer":[{"mark":"rule","encoding":{"y2":{"field":"hi"}}},{"mark":{"type":"tick","size":23}},{"mark":{"type":"tick","size":23},"encoding":{"y":{"field":"hi","type":"quantitative"}}},{"mark":"bar","encoding":{"y":{"field":"q1","type":"quantitative"},"y2":{"field":"q3"},"color":{"field":"g","legend":null}}},{"mark":{"type":"tick","size":46},"encoding":{"y":{"field":"md","type":"quantitative"}}}]},
{"title":"UDPGLTLNGc_M","transform":[{"filter":"datum.p=='UDPGLTLNGc_M'"}],"encoding":{"x":{"field":"f","type":"nominal","sort":["250","750","1500"],"scale":{"type":"band"},"title":null},"xOffset":{"field":"g"},"y":{"field":"lo","type":"quantitative","title":"UDPGLTLNGc_M","scale":{"padding":9.4,"nice":false},"axis":{"values":[0,0.0005,0.001,0.0015],"format":".4f"}}},"layer":[{"mark":"rule","encoding":{"y2":{"field":"hi"}}},{"mark":{"type":"tick","size":23}},{"mark":{"type":"tick","size":23},"encoding":{"y":{"field":"hi","type":"quantitative"}}},{"mark":"bar","encoding":{"y":{"field":"q1","type":"quantitative"},"y2":{"field":"q3"},"color":{"field":"g","legend":null}}},{"mark":{"type":"tick","size":46},"encoding":{"y":{"field":"md","type":"quantitative"}}}]},
{"title":"UDPRMNLc_M","transform":[{"filter":"datum.p=='UDPRMNLc_M'"}],"encoding":{"x":{"field":"f","type":"nominal","sort":["250","750","1500"],"scale":{"type":"band"},"title":null},"xOffset":{"field":"g"},"y":{"field":"lo","type":"quantitative","title":"UDPRMNLc_M","scale":{"padding":9.4,"nice":false},"axis":{"values":[0,0.0005,0.001,0.0015],"format":".4f"}}},"layer":[{"mark":"rule","encoding":{"y2":{"field":"hi"}}},{"mark":{"type":"tick","size":23}},{"mark":{"type":"tick","size":23},"encoding":{"y":{"field":"hi","type":"quantitative"}}},{"mark":"bar","encoding":{"y":{"field":"q1","type":"quantitative"},"y2":{"field":"q3"},"color":{"field":"g","legend":null}}},{"mark":{"type":"tick","size":46},"encoding":{"y":{"field":"md","type":"quantitative"}}}]},
{"title":"UDPGAPGNGc_M","transform":[{"filter":"datum.p=='UDPGAPGNGc_M'"}],"encoding":{"x":{"field":"f","type":"nominal","sort":["250","750","1500"],"scale":{"type":"band"},"title":null},"xOffset":{"field":"g"},"y":{"field":"lo","type":"quantitative","title":"UDPGAPGNGc_M","scale":{"padding":9.4,"nice":false},"axis":{"values":[0,0.0005,0.001,0.0015],"format":".4f"}}},"layer":[{"mark":"rule","encoding":{"y2":{"field":"hi"}}},{"mark":{"type":"tick","size":23}},{"mark":{"type":"tick","size":23},"encoding":{"y":{"field":"hi","type":"quantitative"}}},{"mark":"bar","encoding":{"y":{"field":"q1","type":"quantitative"},"y2":{"field":"q3"},"color":{"field":"g","legend":null}}},{"mark":{"type":"tick","size":46},"encoding":{"y":{"field":"md","type":"quantitative"}}}]},
{"title":"UDPRMNAc_M","transform":[{"filter":"datum.p=='UDPRMNAc_M'"}],"encoding":{"x":{"field":"f","type":"nominal","sort":["250","750","1500"],"scale":{"type":"band"},"title":null},"xOffset":{"field":"g"},"y":{"field":"lo","type":"quantitative","title":"UDPRMNAc_M","scale":{"padding":9.4,"nice":false},"axis":{"values":[0,0.0005,0.001,0.0015],"format":".4f"}}},"layer":[{"mark":"rule","encoding":{"y2":{"field":"hi"}}},{"mark":{"type":"tick","size":23}},{"mark":{"type":"tick","size":23},"encoding":{"y":{"field":"hi","type":"quantitative"}}},{"mark":"bar","encoding":{"y":{"field":"q1","type":"quantitative"},"y2":{"field":"q3"},"color":{"field":"g","legend":null}}},{"mark":{"type":"tick","size":46},"encoding":{"y":{"field":"md","type":"quantitative"}}}]}
]}]}]
}
